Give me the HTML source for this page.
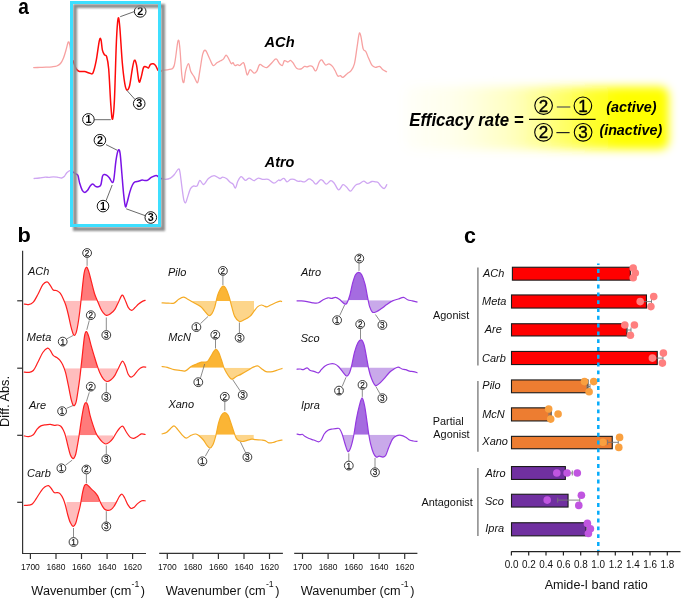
<!DOCTYPE html>
<html><head><meta charset="utf-8"><style>
html,body{margin:0;padding:0;background:#fff;}
svg{display:block;will-change:transform;}
text{font-family:"Liberation Sans", sans-serif;}
</style></head><body>
<svg width="685" height="598" viewBox="0 0 685 598">
<defs>
<filter id="sh" x="-20%" y="-20%" width="140%" height="140%"><feGaussianBlur stdDeviation="0.9"/></filter>
<filter id="bl" x="-20%" y="-40%" width="140%" height="180%"><feGaussianBlur stdDeviation="5"/></filter>
<linearGradient id="yg" x1="0" y1="0" x2="1" y2="0">
 <stop offset="0" stop-color="#ffff80" stop-opacity="0.05"/>
 <stop offset="0.2" stop-color="#ffff70" stop-opacity="0.15"/>
 <stop offset="0.4" stop-color="#ffff50" stop-opacity="0.35"/>
 <stop offset="0.55" stop-color="#ffff30" stop-opacity="0.6"/>
 <stop offset="0.7" stop-color="#ffff10" stop-opacity="0.85"/>
 <stop offset="0.82" stop-color="#ffff00" stop-opacity="1"/>
 <stop offset="1" stop-color="#ffff00" stop-opacity="1"/>
</linearGradient>
<clipPath id="c0_0"><rect x="65.00" y="300.80" width="16.10" height="80.00"/></clipPath>
<clipPath id="c0_1"><rect x="81.10" y="220.80" width="15.80" height="80.00"/></clipPath>
<clipPath id="c0_2"><rect x="96.90" y="300.80" width="20.80" height="80.00"/></clipPath>
<clipPath id="c1_0"><rect x="64.60" y="368.30" width="16.50" height="80.00"/></clipPath>
<clipPath id="c1_1"><rect x="81.10" y="288.30" width="16.30" height="80.00"/></clipPath>
<clipPath id="c1_2"><rect x="97.40" y="368.30" width="19.80" height="80.00"/></clipPath>
<clipPath id="c2_0"><rect x="66.50" y="435.20" width="12.30" height="80.00"/></clipPath>
<clipPath id="c2_1"><rect x="78.80" y="355.20" width="18.10" height="80.00"/></clipPath>
<clipPath id="c2_2"><rect x="96.90" y="435.20" width="16.10" height="80.00"/></clipPath>
<clipPath id="c3_0"><rect x="66.50" y="502.10" width="14.20" height="80.00"/></clipPath>
<clipPath id="c3_1"><rect x="80.70" y="422.10" width="18.60" height="80.00"/></clipPath>
<clipPath id="c3_2"><rect x="99.30" y="502.10" width="16.50" height="80.00"/></clipPath>
<clipPath id="c4_0"><rect x="190.10" y="300.90" width="26.00" height="80.00"/></clipPath>
<clipPath id="c4_1"><rect x="216.10" y="220.90" width="14.40" height="80.00"/></clipPath>
<clipPath id="c4_2"><rect x="230.50" y="300.90" width="23.50" height="80.00"/></clipPath>
<clipPath id="c5_0"><rect x="189.00" y="287.80" width="34.70" height="80.00"/></clipPath>
<clipPath id="c5_1"><rect x="223.70" y="367.80" width="29.00" height="80.00"/></clipPath>
<clipPath id="c6_0"><rect x="198.60" y="434.70" width="16.90" height="80.00"/></clipPath>
<clipPath id="c6_1"><rect x="215.50" y="354.70" width="20.10" height="80.00"/></clipPath>
<clipPath id="c6_2"><rect x="235.60" y="434.70" width="18.10" height="80.00"/></clipPath>
<clipPath id="c7_0"><rect x="342.20" y="300.30" width="6.60" height="80.00"/></clipPath>
<clipPath id="c7_1"><rect x="348.80" y="220.30" width="19.40" height="80.00"/></clipPath>
<clipPath id="c7_2"><rect x="368.20" y="300.30" width="22.80" height="80.00"/></clipPath>
<clipPath id="c8_0"><rect x="340.30" y="367.40" width="11.40" height="80.00"/></clipPath>
<clipPath id="c8_1"><rect x="351.70" y="287.40" width="16.50" height="80.00"/></clipPath>
<clipPath id="c8_2"><rect x="368.20" y="367.40" width="27.10" height="80.00"/></clipPath>
<clipPath id="c9_0"><rect x="342.20" y="434.70" width="11.90" height="80.00"/></clipPath>
<clipPath id="c9_1"><rect x="354.10" y="354.70" width="14.30" height="80.00"/></clipPath>
<clipPath id="c9_2"><rect x="368.40" y="434.70" width="26.90" height="80.00"/></clipPath></defs>
<rect width="685" height="598" fill="#fff"/>
<path d="M33.70,67.60 C34.75,67.57 37.95,67.47 40.00,67.40 C42.05,67.33 44.00,67.30 46.00,67.20 C48.00,67.10 50.20,67.00 52.00,66.80 C53.80,66.60 55.38,66.55 56.80,66.00 C58.22,65.45 59.38,64.83 60.50,63.50 C61.62,62.17 62.58,60.25 63.50,58.00 C64.42,55.75 65.20,52.67 66.00,50.00 C66.80,47.33 67.67,42.83 68.30,42.00 C68.93,41.17 69.35,43.17 69.80,45.00 C70.25,46.83 70.55,50.42 71.00,53.00 C71.45,55.58 72.25,59.25 72.50,60.50" fill="none" stroke="#f7a1a1" stroke-width="1.3" stroke-linejoin="round" stroke-linecap="round" />
<path d="M161.90,70.30 C163.17,70.13 167.45,70.10 169.50,69.30 C171.55,68.50 172.78,70.23 174.20,65.50 C175.62,60.77 177.05,43.73 178.00,40.90 C178.95,38.07 179.27,42.82 179.90,48.50 C180.53,54.18 181.17,69.32 181.80,75.00 C182.43,80.68 183.07,83.23 183.70,82.60 C184.33,81.97 184.80,74.37 185.60,71.20 C186.40,68.03 187.65,63.60 188.50,63.60 C189.35,63.60 189.75,68.98 190.70,71.20 C191.65,73.42 193.05,75.00 194.20,76.90 C195.35,78.80 196.67,83.55 197.60,82.60 C198.53,81.65 198.95,75.93 199.80,71.20 C200.65,66.47 201.75,57.67 202.70,54.20 C203.65,50.73 204.40,49.77 205.50,50.40 C206.60,51.03 208.03,55.48 209.30,58.00 C210.57,60.52 211.83,64.72 213.10,65.50 C214.37,66.28 215.63,63.48 216.90,62.70 C218.17,61.92 219.58,61.43 220.70,60.80 C221.82,60.17 222.72,59.85 223.60,58.90 C224.48,57.95 225.22,55.25 226.00,55.10 C226.78,54.95 227.43,56.58 228.30,58.00 C229.17,59.42 230.42,62.82 231.20,63.60 C231.98,64.38 232.38,62.38 233.00,62.70 C233.62,63.02 234.10,65.18 234.90,65.50 C235.70,65.82 237.00,64.60 237.80,64.60 C238.60,64.60 238.75,65.82 239.70,65.50 C240.65,65.18 242.55,62.22 243.50,62.70 C244.45,63.18 244.77,66.35 245.40,68.40 C246.03,70.45 246.52,74.78 247.30,75.00 C248.08,75.22 249.00,70.02 250.10,69.70 C251.20,69.38 252.78,72.85 253.90,73.10 C255.02,73.35 255.85,72.62 256.80,71.20 C257.75,69.78 258.50,65.38 259.60,64.60 C260.70,63.82 262.13,66.03 263.40,66.50 C264.67,66.97 265.78,68.03 267.20,67.40 C268.62,66.77 270.42,64.12 271.90,62.70 C273.38,61.28 274.83,58.75 276.10,58.90 C277.37,59.05 278.45,62.50 279.50,63.60 C280.55,64.70 281.58,66.00 282.40,65.50 C283.22,65.00 283.48,61.18 284.40,60.60 C285.32,60.02 286.88,62.05 287.90,62.00 C288.92,61.95 289.63,60.15 290.50,60.30 C291.37,60.45 292.08,61.58 293.10,62.90 C294.12,64.22 295.28,67.18 296.60,68.20 C297.92,69.22 299.68,69.30 301.00,69.00 C302.32,68.70 303.48,66.75 304.50,66.40 C305.52,66.05 306.22,66.98 307.10,66.90 C307.98,66.82 308.92,65.98 309.80,65.90 C310.68,65.82 311.38,65.58 312.40,66.40 C313.42,67.22 314.73,71.53 315.90,70.80 C317.07,70.07 318.43,63.82 319.40,62.00 C320.37,60.18 320.97,59.75 321.70,59.90 C322.43,60.05 323.10,62.02 323.80,62.90 C324.50,63.78 325.03,65.05 325.90,65.20 C326.77,65.35 327.90,63.60 329.00,63.80 C330.10,64.00 331.47,65.23 332.50,66.40 C333.53,67.57 334.32,69.20 335.20,70.80 C336.08,72.40 336.93,75.18 337.80,76.00 C338.67,76.82 339.53,75.47 340.40,75.70 C341.27,75.93 341.83,77.78 343.00,77.40 C344.17,77.02 346.08,74.50 347.40,73.40 C348.72,72.30 349.73,72.40 350.90,70.80 C352.07,69.20 353.37,67.80 354.40,63.80 C355.43,59.80 356.30,51.83 357.10,46.80 C357.90,41.77 358.57,35.33 359.20,33.60 C359.83,31.87 360.23,33.85 360.90,36.40 C361.57,38.95 362.38,46.38 363.20,48.90 C364.02,51.42 364.93,50.03 365.80,51.50 C366.67,52.97 367.38,55.42 368.40,57.70 C369.42,59.98 370.73,63.60 371.90,65.20 C373.07,66.80 374.13,67.10 375.40,67.30 C376.67,67.50 378.32,66.05 379.50,66.40 C380.68,66.75 381.33,68.52 382.50,69.40 C383.67,70.28 385.83,71.32 386.50,71.70" fill="none" stroke="#f7a1a1" stroke-width="1.3" stroke-linejoin="round" stroke-linecap="round" />
<path d="M34.10,178.50 C34.98,178.42 37.55,178.23 39.40,178.00 C41.25,177.77 43.65,177.20 45.20,177.10 C46.75,177.00 47.33,177.45 48.70,177.40 C50.07,177.35 51.83,176.80 53.40,176.80 C54.97,176.80 56.73,177.20 58.10,177.40 C59.47,177.60 60.53,178.20 61.60,178.00 C62.67,177.80 63.63,177.08 64.50,176.20 C65.37,175.32 65.82,173.67 66.80,172.70 C67.78,171.73 69.48,170.65 70.40,170.40 C71.32,170.15 71.98,171.07 72.30,171.20" fill="none" stroke="#cfa6f2" stroke-width="1.3" stroke-linejoin="round" stroke-linecap="round" />
<path d="M161.90,178.50 C162.53,178.65 164.28,179.47 165.70,179.40 C167.12,179.33 168.98,178.88 170.40,178.10 C171.82,177.32 172.87,176.22 174.20,174.70 C175.53,173.18 177.45,169.48 178.40,169.00 C179.35,168.52 179.33,168.95 179.90,171.80 C180.47,174.65 181.17,181.52 181.80,186.10 C182.43,190.68 183.07,196.52 183.70,199.30 C184.33,202.08 184.97,203.12 185.60,202.80 C186.23,202.48 186.70,199.72 187.50,197.40 C188.30,195.08 189.45,190.78 190.40,188.90 C191.35,187.02 192.10,186.57 193.20,186.10 C194.30,185.63 195.90,187.05 197.00,186.10 C198.10,185.15 198.70,180.67 199.80,180.40 C200.90,180.13 202.17,184.82 203.60,184.50 C205.03,184.18 206.65,179.98 208.40,178.50 C210.15,177.02 212.20,175.60 214.10,175.60 C216.00,175.60 218.38,178.25 219.80,178.50 C221.22,178.75 221.50,177.10 222.60,177.10 C223.70,177.10 225.13,177.63 226.40,178.50 C227.67,179.37 229.08,181.35 230.20,182.30 C231.32,183.25 232.22,183.25 233.10,184.20 C233.98,185.15 234.72,188.48 235.50,188.00 C236.28,187.52 236.85,183.20 237.80,181.30 C238.75,179.40 239.93,176.75 241.20,176.60 C242.47,176.45 244.07,180.15 245.40,180.40 C246.73,180.65 247.78,178.05 249.20,178.10 C250.62,178.15 252.38,180.70 253.90,180.70 C255.42,180.70 256.87,178.32 258.30,178.10 C259.73,177.88 260.85,179.18 262.50,179.40 C264.15,179.62 266.30,178.77 268.20,179.40 C270.10,180.03 272.17,183.10 273.90,183.20 C275.63,183.30 277.58,180.43 278.60,180.00 C279.62,179.57 279.12,180.87 280.00,180.60 C280.88,180.33 282.73,178.18 283.90,178.40 C285.07,178.62 285.90,181.73 287.00,181.90 C288.10,182.07 289.33,179.82 290.50,179.40 C291.67,178.98 292.83,179.10 294.00,179.40 C295.17,179.70 296.33,180.90 297.50,181.20 C298.67,181.50 299.83,181.08 301.00,181.20 C302.17,181.32 303.18,182.28 304.50,181.90 C305.82,181.52 307.58,179.12 308.90,178.90 C310.22,178.68 311.23,179.73 312.40,180.60 C313.57,181.47 314.58,184.23 315.90,184.10 C317.22,183.97 319.13,180.38 320.30,179.80 C321.47,179.22 321.88,179.88 322.90,180.60 C323.92,181.32 325.08,184.10 326.40,184.10 C327.72,184.10 329.48,180.73 330.80,180.60 C332.12,180.47 332.98,181.75 334.30,183.30 C335.62,184.85 337.25,189.67 338.70,189.90 C340.15,190.13 341.70,185.17 343.00,184.70 C344.30,184.23 345.27,186.02 346.50,187.10 C347.73,188.18 349.22,191.12 350.40,191.20 C351.58,191.28 352.63,188.68 353.60,187.60 C354.57,186.52 355.18,185.37 356.20,184.70 C357.22,184.03 358.45,184.18 359.70,183.60 C360.95,183.02 362.38,181.25 363.70,181.20 C365.02,181.15 366.23,183.25 367.60,183.30 C368.97,183.35 370.60,181.73 371.90,181.50 C373.20,181.27 374.37,181.75 375.40,181.90 C376.43,182.05 377.22,181.73 378.10,182.40 C378.98,183.07 379.68,184.88 380.70,185.90 C381.72,186.92 383.18,188.70 384.20,188.50 C385.22,188.30 386.37,185.33 386.80,184.70" fill="none" stroke="#cfa6f2" stroke-width="1.3" stroke-linejoin="round" stroke-linecap="round" />
<path d="M73.10,60.70 C73.63,62.08 75.25,67.20 76.30,69.00 C77.35,70.80 78.02,71.08 79.40,71.50 C80.78,71.92 82.85,71.22 84.60,71.50 C86.35,71.78 88.50,72.98 89.90,73.20 C91.30,73.42 91.95,74.88 93.00,72.80 C94.05,70.72 95.15,66.03 96.20,60.70 C97.25,55.37 98.50,44.30 99.30,40.80 C100.10,37.30 100.48,38.13 101.00,39.70 C101.52,41.27 101.82,47.68 102.40,50.20 C102.98,52.72 103.80,53.75 104.50,54.80 C105.20,55.85 105.90,54.13 106.60,56.50 C107.30,58.87 108.00,60.98 108.70,69.00 C109.40,77.02 110.17,96.23 110.80,104.60 C111.43,112.97 111.90,119.90 112.50,119.20 C113.10,118.50 113.75,113.30 114.40,100.40 C115.05,87.50 115.78,55.43 116.40,41.80 C117.02,28.17 117.53,21.03 118.10,18.60 C118.67,16.17 119.10,19.83 119.80,27.20 C120.50,34.57 121.47,53.38 122.30,62.80 C123.13,72.22 124.03,79.17 124.80,83.70 C125.57,88.23 126.10,89.65 126.90,90.00 C127.70,90.35 128.70,89.30 129.60,85.80 C130.50,82.30 131.50,73.25 132.30,69.00 C133.10,64.75 133.70,60.98 134.40,60.30 C135.10,59.62 135.73,61.35 136.50,64.90 C137.27,68.45 138.23,79.52 139.00,81.60 C139.77,83.68 140.33,79.77 141.10,77.40 C141.87,75.03 142.72,69.15 143.60,67.40 C144.48,65.65 145.58,66.80 146.40,66.90 C147.22,67.00 147.82,68.42 148.50,68.00 C149.18,67.58 149.70,65.10 150.50,64.40 C151.30,63.70 152.42,63.55 153.30,63.80 C154.18,64.05 155.03,64.85 155.80,65.90 C156.57,66.95 157.03,69.23 157.90,70.10 C158.77,70.97 160.48,70.93 161.00,71.10" fill="none" stroke="#ff0a0a" stroke-width="1.5" stroke-linejoin="round" stroke-linecap="round" />
<path d="M72.60,171.80 C73.05,172.10 74.42,173.00 75.30,173.60 C76.18,174.20 77.17,173.78 77.90,175.40 C78.63,177.02 78.97,180.82 79.70,183.30 C80.43,185.78 81.43,188.78 82.30,190.30 C83.17,191.82 84.02,192.40 84.90,192.40 C85.78,192.40 86.72,191.38 87.60,190.30 C88.48,189.22 89.33,186.93 90.20,185.90 C91.07,184.87 91.92,184.02 92.80,184.10 C93.68,184.18 94.62,185.95 95.50,186.40 C96.38,186.85 97.22,187.03 98.10,186.80 C98.98,186.57 100.07,186.77 100.80,185.00 C101.53,183.23 101.92,177.95 102.50,176.20 C103.08,174.45 103.57,174.63 104.30,174.50 C105.03,174.37 106.03,174.82 106.90,175.40 C107.77,175.98 108.62,176.83 109.50,178.00 C110.38,179.17 111.47,182.25 112.20,182.40 C112.93,182.55 113.27,182.57 113.90,178.90 C114.53,175.23 115.27,165.18 116.00,160.40 C116.73,155.62 117.62,151.37 118.30,150.20 C118.98,149.03 119.52,149.65 120.10,153.40 C120.68,157.15 121.22,165.97 121.80,172.70 C122.38,179.43 123.00,188.17 123.60,193.80 C124.20,199.43 124.82,205.03 125.40,206.50 C125.98,207.97 126.37,205.00 127.10,202.60 C127.83,200.20 128.92,195.03 129.80,192.10 C130.68,189.17 131.53,186.70 132.40,185.00 C133.27,183.30 133.98,182.53 135.00,181.90 C136.02,181.27 137.32,181.50 138.50,181.20 C139.68,180.90 140.92,180.20 142.10,180.10 C143.28,180.00 144.58,180.65 145.60,180.60 C146.62,180.55 147.18,180.38 148.20,179.80 C149.22,179.22 150.38,177.83 151.70,177.10 C153.02,176.37 154.92,175.40 156.10,175.40 C157.28,175.40 157.90,176.57 158.80,177.10 C159.70,177.63 161.05,178.35 161.50,178.60" fill="none" stroke="#7a12e6" stroke-width="1.5" stroke-linejoin="round" stroke-linecap="round" />
<line x1="120.2" y1="16.7" x2="134.5" y2="11.5" stroke="#444" stroke-width="0.8"/>
<circle cx="140.2" cy="11.4" r="5.80" fill="#fff" stroke="#000" stroke-width="0.9"/><text x="140.2" y="15.2" font-size="10.8" font-weight="bold" text-anchor="middle" fill="#000">2</text>
<line x1="126.9" y1="90.4" x2="135.3" y2="99.8" stroke="#444" stroke-width="0.8"/>
<circle cx="139.2" cy="103.6" r="5.80" fill="#fff" stroke="#000" stroke-width="0.9"/><text x="139.2" y="107.3" font-size="10.8" font-weight="bold" text-anchor="middle" fill="#000">3</text>
<line x1="94.0" y1="119.7" x2="110.8" y2="119.7" stroke="#444" stroke-width="0.8"/>
<circle cx="88.4" cy="119.4" r="5.80" fill="#fff" stroke="#000" stroke-width="0.9"/><text x="88.4" y="123.2" font-size="10.8" font-weight="bold" text-anchor="middle" fill="#000">1</text>
<line x1="106.0" y1="144.6" x2="117.1" y2="150.2" stroke="#444" stroke-width="0.8"/>
<circle cx="99.9" cy="140.2" r="5.80" fill="#fff" stroke="#000" stroke-width="0.9"/><text x="99.9" y="143.9" font-size="10.8" font-weight="bold" text-anchor="middle" fill="#000">2</text>
<line x1="106.0" y1="200.8" x2="112.2" y2="185.0" stroke="#444" stroke-width="0.8"/>
<circle cx="103.0" cy="206.1" r="5.80" fill="#fff" stroke="#000" stroke-width="0.9"/><text x="103.0" y="209.8" font-size="10.8" font-weight="bold" text-anchor="middle" fill="#000">1</text>
<line x1="126.2" y1="208.8" x2="145.6" y2="215.8" stroke="#444" stroke-width="0.8"/>
<circle cx="150.8" cy="217.5" r="5.80" fill="#fff" stroke="#000" stroke-width="0.9"/><text x="150.8" y="221.2" font-size="10.8" font-weight="bold" text-anchor="middle" fill="#000">3</text>
<rect x="75" y="6" width="88" height="223" fill="none" stroke="#8e8e8e" stroke-width="4" filter="url(#sh)"/>
<rect x="71.5" y="2.5" width="88" height="223" fill="none" stroke="#3ddfff" stroke-width="3"/>
<text transform="translate(264.49,46.50) scale(0.9532,1)" font-size="15.36" font-weight="bold" font-style="italic" fill="#000" >ACh</text>
<text transform="translate(264.79,166.50) scale(0.9855,1)" font-size="14.64" font-weight="bold" font-style="italic" fill="#000" >Atro</text>
<rect x="405" y="86.5" width="264" height="63" rx="9" fill="url(#yg)" filter="url(#bl)"/>
<text transform="translate(409.26,125.60) scale(0.9298,1)" font-size="18.12" font-weight="bold" font-style="italic" fill="#000" >Efficacy rate =</text>
<line x1="529.0" y1="119.4" x2="595.6" y2="119.4" stroke="#000" stroke-width="1.4"/>
<circle cx="543.6" cy="105.6" r="8.80" fill="none" stroke="#000" stroke-width="1.1"/><text x="543.6" y="111.5" font-size="17.0" font-weight="normal" text-anchor="middle" fill="#000" stroke="#000" stroke-width="0.4">2</text>
<circle cx="582.9" cy="105.8" r="8.80" fill="none" stroke="#000" stroke-width="1.1"/><text x="582.9" y="111.7" font-size="17.0" font-weight="normal" text-anchor="middle" fill="#000" stroke="#000" stroke-width="0.4">1</text>
<circle cx="543.5" cy="132.3" r="8.80" fill="none" stroke="#000" stroke-width="1.1"/><text x="543.5" y="138.2" font-size="17.0" font-weight="normal" text-anchor="middle" fill="#000" stroke="#000" stroke-width="0.4">2</text>
<circle cx="583.1" cy="132.3" r="8.80" fill="none" stroke="#000" stroke-width="1.1"/><text x="583.1" y="138.2" font-size="17.0" font-weight="normal" text-anchor="middle" fill="#000" stroke="#000" stroke-width="0.4">3</text>
<line x1="556.8" y1="107.0" x2="570.3" y2="107.0" stroke="#555" stroke-width="1.2"/>
<line x1="556.4" y1="132.6" x2="569.6" y2="132.6" stroke="#222" stroke-width="1.2"/>
<text transform="translate(606.30,111.80) scale(1.0437,1)" font-size="13.79" font-weight="bold" font-style="italic" fill="#000" >(active)</text>
<text transform="translate(599.40,135.39) scale(1.0084,1)" font-size="14.19" font-weight="bold" font-style="italic" fill="#000" >(inactive)</text>
<text transform="translate(18.13,13.90) scale(0.8875,1)" font-size="21.48" font-weight="bold" font-style="normal" fill="#000" >a</text>
<text transform="translate(17.38,242.30) scale(1.0322,1)" font-size="21.10" font-weight="bold" font-style="normal" fill="#000" >b</text>
<text transform="translate(464.04,242.90) scale(0.9897,1)" font-size="21.67" font-weight="bold" font-style="normal" fill="#000" >c</text>
<path d="M23.80,304.00 C24.58,304.10 26.92,304.92 28.50,304.60 C30.08,304.28 31.72,303.83 33.30,302.10 C34.88,300.37 36.42,297.10 38.00,294.20 C39.58,291.30 41.28,286.77 42.80,284.70 C44.32,282.63 45.83,281.65 47.10,281.80 C48.37,281.95 49.38,284.23 50.40,285.60 C51.42,286.97 52.10,289.15 53.20,290.00 C54.30,290.85 55.83,290.17 57.00,290.70 C58.17,291.23 59.15,291.83 60.20,293.20 C61.25,294.57 62.35,296.85 63.30,298.90 C64.25,300.95 65.05,302.82 65.90,305.50 C66.75,308.18 67.57,311.52 68.40,315.00 C69.23,318.48 70.02,323.07 70.90,326.40 C71.78,329.73 72.85,333.88 73.70,335.00 C74.55,336.12 75.30,334.85 76.00,333.10 C76.70,331.35 77.27,328.15 77.90,324.50 C78.53,320.85 79.17,316.25 79.80,311.20 C80.43,306.15 80.98,300.52 81.70,294.20 C82.42,287.88 83.32,277.80 84.10,273.30 C84.88,268.80 85.63,267.52 86.40,267.20 C87.17,266.88 87.90,269.12 88.70,271.40 C89.50,273.68 90.25,277.27 91.20,280.90 C92.15,284.53 93.37,289.88 94.40,293.20 C95.43,296.52 96.37,298.27 97.40,300.80 C98.43,303.33 99.58,306.35 100.60,308.40 C101.62,310.45 102.55,311.93 103.50,313.10 C104.45,314.27 105.20,315.23 106.30,315.40 C107.40,315.57 108.67,315.12 110.10,314.10 C111.53,313.08 113.47,311.37 114.90,309.30 C116.33,307.23 117.50,304.07 118.70,301.70 C119.90,299.33 121.10,295.57 122.10,295.10 C123.10,294.63 123.68,296.85 124.70,298.90 C125.72,300.95 127.05,305.50 128.20,307.40 C129.35,309.30 130.50,310.23 131.60,310.30 C132.70,310.37 133.63,308.85 134.80,307.80 C135.97,306.75 137.33,305.07 138.60,304.00 C139.87,302.93 141.23,302.03 142.40,301.40 C143.57,300.77 145.07,300.40 145.60,300.20 L145.60,300.80 L23.80,300.80 Z" fill="#ffbdbd" clip-path="url(#c0_0)"/>
<path d="M23.80,304.00 C24.58,304.10 26.92,304.92 28.50,304.60 C30.08,304.28 31.72,303.83 33.30,302.10 C34.88,300.37 36.42,297.10 38.00,294.20 C39.58,291.30 41.28,286.77 42.80,284.70 C44.32,282.63 45.83,281.65 47.10,281.80 C48.37,281.95 49.38,284.23 50.40,285.60 C51.42,286.97 52.10,289.15 53.20,290.00 C54.30,290.85 55.83,290.17 57.00,290.70 C58.17,291.23 59.15,291.83 60.20,293.20 C61.25,294.57 62.35,296.85 63.30,298.90 C64.25,300.95 65.05,302.82 65.90,305.50 C66.75,308.18 67.57,311.52 68.40,315.00 C69.23,318.48 70.02,323.07 70.90,326.40 C71.78,329.73 72.85,333.88 73.70,335.00 C74.55,336.12 75.30,334.85 76.00,333.10 C76.70,331.35 77.27,328.15 77.90,324.50 C78.53,320.85 79.17,316.25 79.80,311.20 C80.43,306.15 80.98,300.52 81.70,294.20 C82.42,287.88 83.32,277.80 84.10,273.30 C84.88,268.80 85.63,267.52 86.40,267.20 C87.17,266.88 87.90,269.12 88.70,271.40 C89.50,273.68 90.25,277.27 91.20,280.90 C92.15,284.53 93.37,289.88 94.40,293.20 C95.43,296.52 96.37,298.27 97.40,300.80 C98.43,303.33 99.58,306.35 100.60,308.40 C101.62,310.45 102.55,311.93 103.50,313.10 C104.45,314.27 105.20,315.23 106.30,315.40 C107.40,315.57 108.67,315.12 110.10,314.10 C111.53,313.08 113.47,311.37 114.90,309.30 C116.33,307.23 117.50,304.07 118.70,301.70 C119.90,299.33 121.10,295.57 122.10,295.10 C123.10,294.63 123.68,296.85 124.70,298.90 C125.72,300.95 127.05,305.50 128.20,307.40 C129.35,309.30 130.50,310.23 131.60,310.30 C132.70,310.37 133.63,308.85 134.80,307.80 C135.97,306.75 137.33,305.07 138.60,304.00 C139.87,302.93 141.23,302.03 142.40,301.40 C143.57,300.77 145.07,300.40 145.60,300.20 L145.60,300.80 L23.80,300.80 Z" fill="#ff7b7b" clip-path="url(#c0_1)"/>
<path d="M23.80,304.00 C24.58,304.10 26.92,304.92 28.50,304.60 C30.08,304.28 31.72,303.83 33.30,302.10 C34.88,300.37 36.42,297.10 38.00,294.20 C39.58,291.30 41.28,286.77 42.80,284.70 C44.32,282.63 45.83,281.65 47.10,281.80 C48.37,281.95 49.38,284.23 50.40,285.60 C51.42,286.97 52.10,289.15 53.20,290.00 C54.30,290.85 55.83,290.17 57.00,290.70 C58.17,291.23 59.15,291.83 60.20,293.20 C61.25,294.57 62.35,296.85 63.30,298.90 C64.25,300.95 65.05,302.82 65.90,305.50 C66.75,308.18 67.57,311.52 68.40,315.00 C69.23,318.48 70.02,323.07 70.90,326.40 C71.78,329.73 72.85,333.88 73.70,335.00 C74.55,336.12 75.30,334.85 76.00,333.10 C76.70,331.35 77.27,328.15 77.90,324.50 C78.53,320.85 79.17,316.25 79.80,311.20 C80.43,306.15 80.98,300.52 81.70,294.20 C82.42,287.88 83.32,277.80 84.10,273.30 C84.88,268.80 85.63,267.52 86.40,267.20 C87.17,266.88 87.90,269.12 88.70,271.40 C89.50,273.68 90.25,277.27 91.20,280.90 C92.15,284.53 93.37,289.88 94.40,293.20 C95.43,296.52 96.37,298.27 97.40,300.80 C98.43,303.33 99.58,306.35 100.60,308.40 C101.62,310.45 102.55,311.93 103.50,313.10 C104.45,314.27 105.20,315.23 106.30,315.40 C107.40,315.57 108.67,315.12 110.10,314.10 C111.53,313.08 113.47,311.37 114.90,309.30 C116.33,307.23 117.50,304.07 118.70,301.70 C119.90,299.33 121.10,295.57 122.10,295.10 C123.10,294.63 123.68,296.85 124.70,298.90 C125.72,300.95 127.05,305.50 128.20,307.40 C129.35,309.30 130.50,310.23 131.60,310.30 C132.70,310.37 133.63,308.85 134.80,307.80 C135.97,306.75 137.33,305.07 138.60,304.00 C139.87,302.93 141.23,302.03 142.40,301.40 C143.57,300.77 145.07,300.40 145.60,300.20 L145.60,300.80 L23.80,300.80 Z" fill="#ffbdbd" clip-path="url(#c0_2)"/>
<path d="M23.80,304.00 C24.58,304.10 26.92,304.92 28.50,304.60 C30.08,304.28 31.72,303.83 33.30,302.10 C34.88,300.37 36.42,297.10 38.00,294.20 C39.58,291.30 41.28,286.77 42.80,284.70 C44.32,282.63 45.83,281.65 47.10,281.80 C48.37,281.95 49.38,284.23 50.40,285.60 C51.42,286.97 52.10,289.15 53.20,290.00 C54.30,290.85 55.83,290.17 57.00,290.70 C58.17,291.23 59.15,291.83 60.20,293.20 C61.25,294.57 62.35,296.85 63.30,298.90 C64.25,300.95 65.05,302.82 65.90,305.50 C66.75,308.18 67.57,311.52 68.40,315.00 C69.23,318.48 70.02,323.07 70.90,326.40 C71.78,329.73 72.85,333.88 73.70,335.00 C74.55,336.12 75.30,334.85 76.00,333.10 C76.70,331.35 77.27,328.15 77.90,324.50 C78.53,320.85 79.17,316.25 79.80,311.20 C80.43,306.15 80.98,300.52 81.70,294.20 C82.42,287.88 83.32,277.80 84.10,273.30 C84.88,268.80 85.63,267.52 86.40,267.20 C87.17,266.88 87.90,269.12 88.70,271.40 C89.50,273.68 90.25,277.27 91.20,280.90 C92.15,284.53 93.37,289.88 94.40,293.20 C95.43,296.52 96.37,298.27 97.40,300.80 C98.43,303.33 99.58,306.35 100.60,308.40 C101.62,310.45 102.55,311.93 103.50,313.10 C104.45,314.27 105.20,315.23 106.30,315.40 C107.40,315.57 108.67,315.12 110.10,314.10 C111.53,313.08 113.47,311.37 114.90,309.30 C116.33,307.23 117.50,304.07 118.70,301.70 C119.90,299.33 121.10,295.57 122.10,295.10 C123.10,294.63 123.68,296.85 124.70,298.90 C125.72,300.95 127.05,305.50 128.20,307.40 C129.35,309.30 130.50,310.23 131.60,310.30 C132.70,310.37 133.63,308.85 134.80,307.80 C135.97,306.75 137.33,305.07 138.60,304.00 C139.87,302.93 141.23,302.03 142.40,301.40 C143.57,300.77 145.07,300.40 145.60,300.20" fill="none" stroke="#ff1f1f" stroke-width="1.2" stroke-linejoin="round"/>
<path d="M23.80,372.10 C24.58,372.15 26.92,372.67 28.50,372.40 C30.08,372.13 31.72,372.23 33.30,370.50 C34.88,368.77 36.42,365.00 38.00,362.00 C39.58,359.00 41.22,354.82 42.80,352.50 C44.38,350.18 46.23,348.42 47.50,348.10 C48.77,347.78 49.45,349.38 50.40,350.60 C51.35,351.82 52.10,354.23 53.20,355.40 C54.30,356.57 55.90,356.82 57.00,357.60 C58.10,358.38 58.85,358.90 59.80,360.10 C60.75,361.30 61.75,362.75 62.70,364.80 C63.65,366.85 64.55,368.92 65.50,372.40 C66.45,375.88 67.45,381.18 68.40,385.70 C69.35,390.22 70.35,396.18 71.20,399.50 C72.05,402.82 72.70,405.12 73.50,405.60 C74.30,406.08 75.27,404.77 76.00,402.40 C76.73,400.03 77.27,395.45 77.90,391.40 C78.53,387.35 79.17,383.15 79.80,378.10 C80.43,373.05 80.92,368.05 81.70,361.10 C82.48,354.15 83.72,341.32 84.50,336.40 C85.28,331.48 85.70,331.60 86.40,331.60 C87.10,331.60 87.90,334.02 88.70,336.40 C89.50,338.78 90.32,342.73 91.20,345.90 C92.08,349.07 93.05,352.25 94.00,355.40 C94.95,358.55 95.95,361.97 96.90,364.80 C97.85,367.63 98.60,370.02 99.70,372.40 C100.80,374.78 102.30,377.58 103.50,379.10 C104.70,380.62 105.70,381.35 106.90,381.50 C108.10,381.65 109.37,381.03 110.70,380.00 C112.03,378.97 113.57,377.35 114.90,375.30 C116.23,373.25 117.43,370.07 118.70,367.70 C119.97,365.33 121.40,361.42 122.50,361.10 C123.60,360.78 124.35,363.60 125.30,365.80 C126.25,368.00 127.25,372.40 128.20,374.30 C129.15,376.20 130.05,377.03 131.00,377.20 C131.95,377.37 132.63,376.57 133.90,375.30 C135.17,374.03 137.18,370.97 138.60,369.60 C140.02,368.23 141.13,367.52 142.40,367.10 C143.67,366.68 145.57,367.10 146.20,367.10 L146.20,368.30 L23.80,368.30 Z" fill="#ffbdbd" clip-path="url(#c1_0)"/>
<path d="M23.80,372.10 C24.58,372.15 26.92,372.67 28.50,372.40 C30.08,372.13 31.72,372.23 33.30,370.50 C34.88,368.77 36.42,365.00 38.00,362.00 C39.58,359.00 41.22,354.82 42.80,352.50 C44.38,350.18 46.23,348.42 47.50,348.10 C48.77,347.78 49.45,349.38 50.40,350.60 C51.35,351.82 52.10,354.23 53.20,355.40 C54.30,356.57 55.90,356.82 57.00,357.60 C58.10,358.38 58.85,358.90 59.80,360.10 C60.75,361.30 61.75,362.75 62.70,364.80 C63.65,366.85 64.55,368.92 65.50,372.40 C66.45,375.88 67.45,381.18 68.40,385.70 C69.35,390.22 70.35,396.18 71.20,399.50 C72.05,402.82 72.70,405.12 73.50,405.60 C74.30,406.08 75.27,404.77 76.00,402.40 C76.73,400.03 77.27,395.45 77.90,391.40 C78.53,387.35 79.17,383.15 79.80,378.10 C80.43,373.05 80.92,368.05 81.70,361.10 C82.48,354.15 83.72,341.32 84.50,336.40 C85.28,331.48 85.70,331.60 86.40,331.60 C87.10,331.60 87.90,334.02 88.70,336.40 C89.50,338.78 90.32,342.73 91.20,345.90 C92.08,349.07 93.05,352.25 94.00,355.40 C94.95,358.55 95.95,361.97 96.90,364.80 C97.85,367.63 98.60,370.02 99.70,372.40 C100.80,374.78 102.30,377.58 103.50,379.10 C104.70,380.62 105.70,381.35 106.90,381.50 C108.10,381.65 109.37,381.03 110.70,380.00 C112.03,378.97 113.57,377.35 114.90,375.30 C116.23,373.25 117.43,370.07 118.70,367.70 C119.97,365.33 121.40,361.42 122.50,361.10 C123.60,360.78 124.35,363.60 125.30,365.80 C126.25,368.00 127.25,372.40 128.20,374.30 C129.15,376.20 130.05,377.03 131.00,377.20 C131.95,377.37 132.63,376.57 133.90,375.30 C135.17,374.03 137.18,370.97 138.60,369.60 C140.02,368.23 141.13,367.52 142.40,367.10 C143.67,366.68 145.57,367.10 146.20,367.10 L146.20,368.30 L23.80,368.30 Z" fill="#ff7b7b" clip-path="url(#c1_1)"/>
<path d="M23.80,372.10 C24.58,372.15 26.92,372.67 28.50,372.40 C30.08,372.13 31.72,372.23 33.30,370.50 C34.88,368.77 36.42,365.00 38.00,362.00 C39.58,359.00 41.22,354.82 42.80,352.50 C44.38,350.18 46.23,348.42 47.50,348.10 C48.77,347.78 49.45,349.38 50.40,350.60 C51.35,351.82 52.10,354.23 53.20,355.40 C54.30,356.57 55.90,356.82 57.00,357.60 C58.10,358.38 58.85,358.90 59.80,360.10 C60.75,361.30 61.75,362.75 62.70,364.80 C63.65,366.85 64.55,368.92 65.50,372.40 C66.45,375.88 67.45,381.18 68.40,385.70 C69.35,390.22 70.35,396.18 71.20,399.50 C72.05,402.82 72.70,405.12 73.50,405.60 C74.30,406.08 75.27,404.77 76.00,402.40 C76.73,400.03 77.27,395.45 77.90,391.40 C78.53,387.35 79.17,383.15 79.80,378.10 C80.43,373.05 80.92,368.05 81.70,361.10 C82.48,354.15 83.72,341.32 84.50,336.40 C85.28,331.48 85.70,331.60 86.40,331.60 C87.10,331.60 87.90,334.02 88.70,336.40 C89.50,338.78 90.32,342.73 91.20,345.90 C92.08,349.07 93.05,352.25 94.00,355.40 C94.95,358.55 95.95,361.97 96.90,364.80 C97.85,367.63 98.60,370.02 99.70,372.40 C100.80,374.78 102.30,377.58 103.50,379.10 C104.70,380.62 105.70,381.35 106.90,381.50 C108.10,381.65 109.37,381.03 110.70,380.00 C112.03,378.97 113.57,377.35 114.90,375.30 C116.23,373.25 117.43,370.07 118.70,367.70 C119.97,365.33 121.40,361.42 122.50,361.10 C123.60,360.78 124.35,363.60 125.30,365.80 C126.25,368.00 127.25,372.40 128.20,374.30 C129.15,376.20 130.05,377.03 131.00,377.20 C131.95,377.37 132.63,376.57 133.90,375.30 C135.17,374.03 137.18,370.97 138.60,369.60 C140.02,368.23 141.13,367.52 142.40,367.10 C143.67,366.68 145.57,367.10 146.20,367.10 L146.20,368.30 L23.80,368.30 Z" fill="#ffbdbd" clip-path="url(#c1_2)"/>
<path d="M23.80,372.10 C24.58,372.15 26.92,372.67 28.50,372.40 C30.08,372.13 31.72,372.23 33.30,370.50 C34.88,368.77 36.42,365.00 38.00,362.00 C39.58,359.00 41.22,354.82 42.80,352.50 C44.38,350.18 46.23,348.42 47.50,348.10 C48.77,347.78 49.45,349.38 50.40,350.60 C51.35,351.82 52.10,354.23 53.20,355.40 C54.30,356.57 55.90,356.82 57.00,357.60 C58.10,358.38 58.85,358.90 59.80,360.10 C60.75,361.30 61.75,362.75 62.70,364.80 C63.65,366.85 64.55,368.92 65.50,372.40 C66.45,375.88 67.45,381.18 68.40,385.70 C69.35,390.22 70.35,396.18 71.20,399.50 C72.05,402.82 72.70,405.12 73.50,405.60 C74.30,406.08 75.27,404.77 76.00,402.40 C76.73,400.03 77.27,395.45 77.90,391.40 C78.53,387.35 79.17,383.15 79.80,378.10 C80.43,373.05 80.92,368.05 81.70,361.10 C82.48,354.15 83.72,341.32 84.50,336.40 C85.28,331.48 85.70,331.60 86.40,331.60 C87.10,331.60 87.90,334.02 88.70,336.40 C89.50,338.78 90.32,342.73 91.20,345.90 C92.08,349.07 93.05,352.25 94.00,355.40 C94.95,358.55 95.95,361.97 96.90,364.80 C97.85,367.63 98.60,370.02 99.70,372.40 C100.80,374.78 102.30,377.58 103.50,379.10 C104.70,380.62 105.70,381.35 106.90,381.50 C108.10,381.65 109.37,381.03 110.70,380.00 C112.03,378.97 113.57,377.35 114.90,375.30 C116.23,373.25 117.43,370.07 118.70,367.70 C119.97,365.33 121.40,361.42 122.50,361.10 C123.60,360.78 124.35,363.60 125.30,365.80 C126.25,368.00 127.25,372.40 128.20,374.30 C129.15,376.20 130.05,377.03 131.00,377.20 C131.95,377.37 132.63,376.57 133.90,375.30 C135.17,374.03 137.18,370.97 138.60,369.60 C140.02,368.23 141.13,367.52 142.40,367.10 C143.67,366.68 145.57,367.10 146.20,367.10" fill="none" stroke="#ff1f1f" stroke-width="1.2" stroke-linejoin="round"/>
<path d="M23.80,435.80 C24.58,435.95 26.92,436.87 28.50,436.70 C30.08,436.53 31.87,436.05 33.30,434.80 C34.73,433.55 35.83,430.68 37.10,429.20 C38.37,427.72 39.48,426.63 40.90,425.90 C42.32,425.17 44.02,425.05 45.60,424.80 C47.18,424.55 48.97,424.30 50.40,424.40 C51.83,424.50 52.93,425.30 54.20,425.40 C55.47,425.50 56.90,424.85 58.00,425.00 C59.10,425.15 59.92,425.45 60.80,426.30 C61.68,427.15 62.52,428.52 63.30,430.10 C64.08,431.68 64.75,433.27 65.50,435.80 C66.25,438.33 67.00,442.13 67.80,445.30 C68.60,448.47 69.42,452.58 70.30,454.80 C71.18,457.02 72.25,458.52 73.10,458.60 C73.95,458.68 74.70,457.37 75.40,455.30 C76.10,453.23 76.67,449.62 77.30,446.20 C77.93,442.78 78.47,439.53 79.20,434.80 C79.93,430.07 80.88,422.70 81.70,417.80 C82.52,412.90 83.38,407.93 84.10,405.40 C84.82,402.87 85.37,402.60 86.00,402.60 C86.63,402.60 87.20,403.18 87.90,405.40 C88.60,407.62 89.33,412.57 90.20,415.90 C91.07,419.23 92.15,422.55 93.10,425.40 C94.05,428.25 94.97,430.95 95.90,433.00 C96.83,435.05 97.60,436.18 98.70,437.70 C99.80,439.22 101.32,441.05 102.50,442.10 C103.68,443.15 104.68,443.95 105.80,444.00 C106.92,444.05 108.00,443.35 109.20,442.40 C110.40,441.45 111.73,440.03 113.00,438.30 C114.27,436.57 115.70,433.68 116.80,432.00 C117.90,430.32 118.60,429.15 119.60,428.20 C120.60,427.25 121.68,425.67 122.80,426.30 C123.92,426.93 125.08,430.20 126.30,432.00 C127.52,433.80 128.83,436.05 130.10,437.10 C131.37,438.15 132.65,438.42 133.90,438.30 C135.15,438.18 136.35,437.13 137.60,436.40 C138.85,435.67 140.07,434.22 141.40,433.90 C142.73,433.58 144.90,434.40 145.60,434.50 L145.60,435.20 L23.80,435.20 Z" fill="#ffbdbd" clip-path="url(#c2_0)"/>
<path d="M23.80,435.80 C24.58,435.95 26.92,436.87 28.50,436.70 C30.08,436.53 31.87,436.05 33.30,434.80 C34.73,433.55 35.83,430.68 37.10,429.20 C38.37,427.72 39.48,426.63 40.90,425.90 C42.32,425.17 44.02,425.05 45.60,424.80 C47.18,424.55 48.97,424.30 50.40,424.40 C51.83,424.50 52.93,425.30 54.20,425.40 C55.47,425.50 56.90,424.85 58.00,425.00 C59.10,425.15 59.92,425.45 60.80,426.30 C61.68,427.15 62.52,428.52 63.30,430.10 C64.08,431.68 64.75,433.27 65.50,435.80 C66.25,438.33 67.00,442.13 67.80,445.30 C68.60,448.47 69.42,452.58 70.30,454.80 C71.18,457.02 72.25,458.52 73.10,458.60 C73.95,458.68 74.70,457.37 75.40,455.30 C76.10,453.23 76.67,449.62 77.30,446.20 C77.93,442.78 78.47,439.53 79.20,434.80 C79.93,430.07 80.88,422.70 81.70,417.80 C82.52,412.90 83.38,407.93 84.10,405.40 C84.82,402.87 85.37,402.60 86.00,402.60 C86.63,402.60 87.20,403.18 87.90,405.40 C88.60,407.62 89.33,412.57 90.20,415.90 C91.07,419.23 92.15,422.55 93.10,425.40 C94.05,428.25 94.97,430.95 95.90,433.00 C96.83,435.05 97.60,436.18 98.70,437.70 C99.80,439.22 101.32,441.05 102.50,442.10 C103.68,443.15 104.68,443.95 105.80,444.00 C106.92,444.05 108.00,443.35 109.20,442.40 C110.40,441.45 111.73,440.03 113.00,438.30 C114.27,436.57 115.70,433.68 116.80,432.00 C117.90,430.32 118.60,429.15 119.60,428.20 C120.60,427.25 121.68,425.67 122.80,426.30 C123.92,426.93 125.08,430.20 126.30,432.00 C127.52,433.80 128.83,436.05 130.10,437.10 C131.37,438.15 132.65,438.42 133.90,438.30 C135.15,438.18 136.35,437.13 137.60,436.40 C138.85,435.67 140.07,434.22 141.40,433.90 C142.73,433.58 144.90,434.40 145.60,434.50 L145.60,435.20 L23.80,435.20 Z" fill="#ff7b7b" clip-path="url(#c2_1)"/>
<path d="M23.80,435.80 C24.58,435.95 26.92,436.87 28.50,436.70 C30.08,436.53 31.87,436.05 33.30,434.80 C34.73,433.55 35.83,430.68 37.10,429.20 C38.37,427.72 39.48,426.63 40.90,425.90 C42.32,425.17 44.02,425.05 45.60,424.80 C47.18,424.55 48.97,424.30 50.40,424.40 C51.83,424.50 52.93,425.30 54.20,425.40 C55.47,425.50 56.90,424.85 58.00,425.00 C59.10,425.15 59.92,425.45 60.80,426.30 C61.68,427.15 62.52,428.52 63.30,430.10 C64.08,431.68 64.75,433.27 65.50,435.80 C66.25,438.33 67.00,442.13 67.80,445.30 C68.60,448.47 69.42,452.58 70.30,454.80 C71.18,457.02 72.25,458.52 73.10,458.60 C73.95,458.68 74.70,457.37 75.40,455.30 C76.10,453.23 76.67,449.62 77.30,446.20 C77.93,442.78 78.47,439.53 79.20,434.80 C79.93,430.07 80.88,422.70 81.70,417.80 C82.52,412.90 83.38,407.93 84.10,405.40 C84.82,402.87 85.37,402.60 86.00,402.60 C86.63,402.60 87.20,403.18 87.90,405.40 C88.60,407.62 89.33,412.57 90.20,415.90 C91.07,419.23 92.15,422.55 93.10,425.40 C94.05,428.25 94.97,430.95 95.90,433.00 C96.83,435.05 97.60,436.18 98.70,437.70 C99.80,439.22 101.32,441.05 102.50,442.10 C103.68,443.15 104.68,443.95 105.80,444.00 C106.92,444.05 108.00,443.35 109.20,442.40 C110.40,441.45 111.73,440.03 113.00,438.30 C114.27,436.57 115.70,433.68 116.80,432.00 C117.90,430.32 118.60,429.15 119.60,428.20 C120.60,427.25 121.68,425.67 122.80,426.30 C123.92,426.93 125.08,430.20 126.30,432.00 C127.52,433.80 128.83,436.05 130.10,437.10 C131.37,438.15 132.65,438.42 133.90,438.30 C135.15,438.18 136.35,437.13 137.60,436.40 C138.85,435.67 140.07,434.22 141.40,433.90 C142.73,433.58 144.90,434.40 145.60,434.50 L145.60,435.20 L23.80,435.20 Z" fill="#ffbdbd" clip-path="url(#c2_2)"/>
<path d="M23.80,435.80 C24.58,435.95 26.92,436.87 28.50,436.70 C30.08,436.53 31.87,436.05 33.30,434.80 C34.73,433.55 35.83,430.68 37.10,429.20 C38.37,427.72 39.48,426.63 40.90,425.90 C42.32,425.17 44.02,425.05 45.60,424.80 C47.18,424.55 48.97,424.30 50.40,424.40 C51.83,424.50 52.93,425.30 54.20,425.40 C55.47,425.50 56.90,424.85 58.00,425.00 C59.10,425.15 59.92,425.45 60.80,426.30 C61.68,427.15 62.52,428.52 63.30,430.10 C64.08,431.68 64.75,433.27 65.50,435.80 C66.25,438.33 67.00,442.13 67.80,445.30 C68.60,448.47 69.42,452.58 70.30,454.80 C71.18,457.02 72.25,458.52 73.10,458.60 C73.95,458.68 74.70,457.37 75.40,455.30 C76.10,453.23 76.67,449.62 77.30,446.20 C77.93,442.78 78.47,439.53 79.20,434.80 C79.93,430.07 80.88,422.70 81.70,417.80 C82.52,412.90 83.38,407.93 84.10,405.40 C84.82,402.87 85.37,402.60 86.00,402.60 C86.63,402.60 87.20,403.18 87.90,405.40 C88.60,407.62 89.33,412.57 90.20,415.90 C91.07,419.23 92.15,422.55 93.10,425.40 C94.05,428.25 94.97,430.95 95.90,433.00 C96.83,435.05 97.60,436.18 98.70,437.70 C99.80,439.22 101.32,441.05 102.50,442.10 C103.68,443.15 104.68,443.95 105.80,444.00 C106.92,444.05 108.00,443.35 109.20,442.40 C110.40,441.45 111.73,440.03 113.00,438.30 C114.27,436.57 115.70,433.68 116.80,432.00 C117.90,430.32 118.60,429.15 119.60,428.20 C120.60,427.25 121.68,425.67 122.80,426.30 C123.92,426.93 125.08,430.20 126.30,432.00 C127.52,433.80 128.83,436.05 130.10,437.10 C131.37,438.15 132.65,438.42 133.90,438.30 C135.15,438.18 136.35,437.13 137.60,436.40 C138.85,435.67 140.07,434.22 141.40,433.90 C142.73,433.58 144.90,434.40 145.60,434.50" fill="none" stroke="#ff1f1f" stroke-width="1.2" stroke-linejoin="round"/>
<path d="M23.80,505.50 C24.58,505.45 27.08,505.45 28.50,505.20 C29.92,504.95 31.03,505.05 32.30,504.00 C33.57,502.95 34.67,501.02 36.10,498.90 C37.53,496.78 39.47,493.27 40.90,491.30 C42.33,489.33 43.43,488.05 44.70,487.10 C45.97,486.15 47.40,485.37 48.50,485.60 C49.60,485.83 50.35,487.33 51.30,488.50 C52.25,489.67 53.25,491.92 54.20,492.60 C55.15,493.28 56.00,492.40 57.00,492.60 C58.00,492.80 59.15,492.75 60.20,493.80 C61.25,494.85 62.42,496.95 63.30,498.90 C64.18,500.85 64.75,502.82 65.50,505.50 C66.25,508.18 67.00,512.15 67.80,515.00 C68.60,517.85 69.42,520.70 70.30,522.60 C71.18,524.50 72.22,526.23 73.10,526.40 C73.98,526.57 74.80,525.50 75.60,523.60 C76.40,521.70 77.12,518.02 77.90,515.00 C78.68,511.98 79.52,509.28 80.30,505.50 C81.08,501.72 81.90,495.62 82.60,492.30 C83.30,488.98 83.87,486.93 84.50,485.60 C85.13,484.27 85.70,484.20 86.40,484.30 C87.10,484.40 87.82,485.35 88.70,486.20 C89.58,487.05 90.65,488.38 91.70,489.40 C92.75,490.42 93.98,491.18 95.00,492.30 C96.02,493.42 97.02,494.68 97.80,496.10 C98.58,497.52 99.00,499.23 99.70,500.80 C100.40,502.37 101.22,504.13 102.00,505.50 C102.78,506.87 103.52,508.20 104.40,509.00 C105.28,509.80 106.25,510.18 107.30,510.30 C108.35,510.42 109.60,510.33 110.70,509.70 C111.80,509.07 112.88,507.88 113.90,506.50 C114.92,505.12 115.85,503.13 116.80,501.40 C117.75,499.67 118.72,497.30 119.60,496.10 C120.48,494.90 121.25,493.88 122.10,494.20 C122.95,494.52 123.75,496.27 124.70,498.00 C125.65,499.73 126.75,502.87 127.80,504.60 C128.85,506.33 129.98,507.93 131.00,508.40 C132.02,508.87 132.80,508.20 133.90,507.40 C135.00,506.60 136.28,504.70 137.60,503.60 C138.92,502.50 140.47,501.27 141.80,500.80 C143.13,500.33 144.97,500.80 145.60,500.80 L145.60,502.10 L23.80,502.10 Z" fill="#ffbdbd" clip-path="url(#c3_0)"/>
<path d="M23.80,505.50 C24.58,505.45 27.08,505.45 28.50,505.20 C29.92,504.95 31.03,505.05 32.30,504.00 C33.57,502.95 34.67,501.02 36.10,498.90 C37.53,496.78 39.47,493.27 40.90,491.30 C42.33,489.33 43.43,488.05 44.70,487.10 C45.97,486.15 47.40,485.37 48.50,485.60 C49.60,485.83 50.35,487.33 51.30,488.50 C52.25,489.67 53.25,491.92 54.20,492.60 C55.15,493.28 56.00,492.40 57.00,492.60 C58.00,492.80 59.15,492.75 60.20,493.80 C61.25,494.85 62.42,496.95 63.30,498.90 C64.18,500.85 64.75,502.82 65.50,505.50 C66.25,508.18 67.00,512.15 67.80,515.00 C68.60,517.85 69.42,520.70 70.30,522.60 C71.18,524.50 72.22,526.23 73.10,526.40 C73.98,526.57 74.80,525.50 75.60,523.60 C76.40,521.70 77.12,518.02 77.90,515.00 C78.68,511.98 79.52,509.28 80.30,505.50 C81.08,501.72 81.90,495.62 82.60,492.30 C83.30,488.98 83.87,486.93 84.50,485.60 C85.13,484.27 85.70,484.20 86.40,484.30 C87.10,484.40 87.82,485.35 88.70,486.20 C89.58,487.05 90.65,488.38 91.70,489.40 C92.75,490.42 93.98,491.18 95.00,492.30 C96.02,493.42 97.02,494.68 97.80,496.10 C98.58,497.52 99.00,499.23 99.70,500.80 C100.40,502.37 101.22,504.13 102.00,505.50 C102.78,506.87 103.52,508.20 104.40,509.00 C105.28,509.80 106.25,510.18 107.30,510.30 C108.35,510.42 109.60,510.33 110.70,509.70 C111.80,509.07 112.88,507.88 113.90,506.50 C114.92,505.12 115.85,503.13 116.80,501.40 C117.75,499.67 118.72,497.30 119.60,496.10 C120.48,494.90 121.25,493.88 122.10,494.20 C122.95,494.52 123.75,496.27 124.70,498.00 C125.65,499.73 126.75,502.87 127.80,504.60 C128.85,506.33 129.98,507.93 131.00,508.40 C132.02,508.87 132.80,508.20 133.90,507.40 C135.00,506.60 136.28,504.70 137.60,503.60 C138.92,502.50 140.47,501.27 141.80,500.80 C143.13,500.33 144.97,500.80 145.60,500.80 L145.60,502.10 L23.80,502.10 Z" fill="#ff7b7b" clip-path="url(#c3_1)"/>
<path d="M23.80,505.50 C24.58,505.45 27.08,505.45 28.50,505.20 C29.92,504.95 31.03,505.05 32.30,504.00 C33.57,502.95 34.67,501.02 36.10,498.90 C37.53,496.78 39.47,493.27 40.90,491.30 C42.33,489.33 43.43,488.05 44.70,487.10 C45.97,486.15 47.40,485.37 48.50,485.60 C49.60,485.83 50.35,487.33 51.30,488.50 C52.25,489.67 53.25,491.92 54.20,492.60 C55.15,493.28 56.00,492.40 57.00,492.60 C58.00,492.80 59.15,492.75 60.20,493.80 C61.25,494.85 62.42,496.95 63.30,498.90 C64.18,500.85 64.75,502.82 65.50,505.50 C66.25,508.18 67.00,512.15 67.80,515.00 C68.60,517.85 69.42,520.70 70.30,522.60 C71.18,524.50 72.22,526.23 73.10,526.40 C73.98,526.57 74.80,525.50 75.60,523.60 C76.40,521.70 77.12,518.02 77.90,515.00 C78.68,511.98 79.52,509.28 80.30,505.50 C81.08,501.72 81.90,495.62 82.60,492.30 C83.30,488.98 83.87,486.93 84.50,485.60 C85.13,484.27 85.70,484.20 86.40,484.30 C87.10,484.40 87.82,485.35 88.70,486.20 C89.58,487.05 90.65,488.38 91.70,489.40 C92.75,490.42 93.98,491.18 95.00,492.30 C96.02,493.42 97.02,494.68 97.80,496.10 C98.58,497.52 99.00,499.23 99.70,500.80 C100.40,502.37 101.22,504.13 102.00,505.50 C102.78,506.87 103.52,508.20 104.40,509.00 C105.28,509.80 106.25,510.18 107.30,510.30 C108.35,510.42 109.60,510.33 110.70,509.70 C111.80,509.07 112.88,507.88 113.90,506.50 C114.92,505.12 115.85,503.13 116.80,501.40 C117.75,499.67 118.72,497.30 119.60,496.10 C120.48,494.90 121.25,493.88 122.10,494.20 C122.95,494.52 123.75,496.27 124.70,498.00 C125.65,499.73 126.75,502.87 127.80,504.60 C128.85,506.33 129.98,507.93 131.00,508.40 C132.02,508.87 132.80,508.20 133.90,507.40 C135.00,506.60 136.28,504.70 137.60,503.60 C138.92,502.50 140.47,501.27 141.80,500.80 C143.13,500.33 144.97,500.80 145.60,500.80 L145.60,502.10 L23.80,502.10 Z" fill="#ffbdbd" clip-path="url(#c3_2)"/>
<path d="M23.80,505.50 C24.58,505.45 27.08,505.45 28.50,505.20 C29.92,504.95 31.03,505.05 32.30,504.00 C33.57,502.95 34.67,501.02 36.10,498.90 C37.53,496.78 39.47,493.27 40.90,491.30 C42.33,489.33 43.43,488.05 44.70,487.10 C45.97,486.15 47.40,485.37 48.50,485.60 C49.60,485.83 50.35,487.33 51.30,488.50 C52.25,489.67 53.25,491.92 54.20,492.60 C55.15,493.28 56.00,492.40 57.00,492.60 C58.00,492.80 59.15,492.75 60.20,493.80 C61.25,494.85 62.42,496.95 63.30,498.90 C64.18,500.85 64.75,502.82 65.50,505.50 C66.25,508.18 67.00,512.15 67.80,515.00 C68.60,517.85 69.42,520.70 70.30,522.60 C71.18,524.50 72.22,526.23 73.10,526.40 C73.98,526.57 74.80,525.50 75.60,523.60 C76.40,521.70 77.12,518.02 77.90,515.00 C78.68,511.98 79.52,509.28 80.30,505.50 C81.08,501.72 81.90,495.62 82.60,492.30 C83.30,488.98 83.87,486.93 84.50,485.60 C85.13,484.27 85.70,484.20 86.40,484.30 C87.10,484.40 87.82,485.35 88.70,486.20 C89.58,487.05 90.65,488.38 91.70,489.40 C92.75,490.42 93.98,491.18 95.00,492.30 C96.02,493.42 97.02,494.68 97.80,496.10 C98.58,497.52 99.00,499.23 99.70,500.80 C100.40,502.37 101.22,504.13 102.00,505.50 C102.78,506.87 103.52,508.20 104.40,509.00 C105.28,509.80 106.25,510.18 107.30,510.30 C108.35,510.42 109.60,510.33 110.70,509.70 C111.80,509.07 112.88,507.88 113.90,506.50 C114.92,505.12 115.85,503.13 116.80,501.40 C117.75,499.67 118.72,497.30 119.60,496.10 C120.48,494.90 121.25,493.88 122.10,494.20 C122.95,494.52 123.75,496.27 124.70,498.00 C125.65,499.73 126.75,502.87 127.80,504.60 C128.85,506.33 129.98,507.93 131.00,508.40 C132.02,508.87 132.80,508.20 133.90,507.40 C135.00,506.60 136.28,504.70 137.60,503.60 C138.92,502.50 140.47,501.27 141.80,500.80 C143.13,500.33 144.97,500.80 145.60,500.80" fill="none" stroke="#ff1f1f" stroke-width="1.2" stroke-linejoin="round"/>
<path d="M161.60,302.80 C162.72,302.85 166.23,303.05 168.30,303.10 C170.37,303.15 172.27,303.73 174.00,303.10 C175.73,302.47 177.12,300.30 178.70,299.30 C180.28,298.30 182.07,297.15 183.50,297.10 C184.93,297.05 185.72,298.15 187.30,299.00 C188.88,299.85 190.80,300.95 193.00,302.20 C195.20,303.45 198.62,305.08 200.50,306.50 C202.38,307.92 202.93,309.20 204.30,310.70 C205.67,312.20 207.43,315.02 208.70,315.50 C209.97,315.98 210.88,315.03 211.90,313.60 C212.92,312.17 213.85,309.92 214.80,306.90 C215.75,303.88 216.65,298.50 217.60,295.50 C218.55,292.50 219.62,290.47 220.50,288.90 C221.38,287.33 222.05,286.25 222.90,286.10 C223.75,285.95 224.58,286.27 225.60,288.00 C226.62,289.73 227.97,293.35 229.00,296.50 C230.03,299.65 230.85,303.58 231.80,306.90 C232.75,310.22 233.43,313.97 234.70,316.40 C235.97,318.83 237.82,320.93 239.40,321.50 C240.98,322.07 242.45,320.65 244.20,319.80 C245.95,318.95 248.32,317.75 249.90,316.40 C251.48,315.05 252.43,313.28 253.70,311.70 C254.97,310.12 256.23,308.02 257.50,306.90 C258.77,305.78 260.20,305.15 261.30,305.00 C262.40,304.85 263.15,305.68 264.10,306.00 C265.05,306.32 265.88,307.07 267.00,306.90 C268.12,306.73 269.38,305.68 270.80,305.00 C272.22,304.32 273.93,303.43 275.50,302.80 C277.07,302.17 279.10,301.40 280.20,301.20 C281.30,301.00 281.78,301.53 282.10,301.60 L282.10,300.90 L161.60,300.90 Z" fill="#fdd58a" clip-path="url(#c4_0)"/>
<path d="M161.60,302.80 C162.72,302.85 166.23,303.05 168.30,303.10 C170.37,303.15 172.27,303.73 174.00,303.10 C175.73,302.47 177.12,300.30 178.70,299.30 C180.28,298.30 182.07,297.15 183.50,297.10 C184.93,297.05 185.72,298.15 187.30,299.00 C188.88,299.85 190.80,300.95 193.00,302.20 C195.20,303.45 198.62,305.08 200.50,306.50 C202.38,307.92 202.93,309.20 204.30,310.70 C205.67,312.20 207.43,315.02 208.70,315.50 C209.97,315.98 210.88,315.03 211.90,313.60 C212.92,312.17 213.85,309.92 214.80,306.90 C215.75,303.88 216.65,298.50 217.60,295.50 C218.55,292.50 219.62,290.47 220.50,288.90 C221.38,287.33 222.05,286.25 222.90,286.10 C223.75,285.95 224.58,286.27 225.60,288.00 C226.62,289.73 227.97,293.35 229.00,296.50 C230.03,299.65 230.85,303.58 231.80,306.90 C232.75,310.22 233.43,313.97 234.70,316.40 C235.97,318.83 237.82,320.93 239.40,321.50 C240.98,322.07 242.45,320.65 244.20,319.80 C245.95,318.95 248.32,317.75 249.90,316.40 C251.48,315.05 252.43,313.28 253.70,311.70 C254.97,310.12 256.23,308.02 257.50,306.90 C258.77,305.78 260.20,305.15 261.30,305.00 C262.40,304.85 263.15,305.68 264.10,306.00 C265.05,306.32 265.88,307.07 267.00,306.90 C268.12,306.73 269.38,305.68 270.80,305.00 C272.22,304.32 273.93,303.43 275.50,302.80 C277.07,302.17 279.10,301.40 280.20,301.20 C281.30,301.00 281.78,301.53 282.10,301.60 L282.10,300.90 L161.60,300.90 Z" fill="#fbb535" clip-path="url(#c4_1)"/>
<path d="M161.60,302.80 C162.72,302.85 166.23,303.05 168.30,303.10 C170.37,303.15 172.27,303.73 174.00,303.10 C175.73,302.47 177.12,300.30 178.70,299.30 C180.28,298.30 182.07,297.15 183.50,297.10 C184.93,297.05 185.72,298.15 187.30,299.00 C188.88,299.85 190.80,300.95 193.00,302.20 C195.20,303.45 198.62,305.08 200.50,306.50 C202.38,307.92 202.93,309.20 204.30,310.70 C205.67,312.20 207.43,315.02 208.70,315.50 C209.97,315.98 210.88,315.03 211.90,313.60 C212.92,312.17 213.85,309.92 214.80,306.90 C215.75,303.88 216.65,298.50 217.60,295.50 C218.55,292.50 219.62,290.47 220.50,288.90 C221.38,287.33 222.05,286.25 222.90,286.10 C223.75,285.95 224.58,286.27 225.60,288.00 C226.62,289.73 227.97,293.35 229.00,296.50 C230.03,299.65 230.85,303.58 231.80,306.90 C232.75,310.22 233.43,313.97 234.70,316.40 C235.97,318.83 237.82,320.93 239.40,321.50 C240.98,322.07 242.45,320.65 244.20,319.80 C245.95,318.95 248.32,317.75 249.90,316.40 C251.48,315.05 252.43,313.28 253.70,311.70 C254.97,310.12 256.23,308.02 257.50,306.90 C258.77,305.78 260.20,305.15 261.30,305.00 C262.40,304.85 263.15,305.68 264.10,306.00 C265.05,306.32 265.88,307.07 267.00,306.90 C268.12,306.73 269.38,305.68 270.80,305.00 C272.22,304.32 273.93,303.43 275.50,302.80 C277.07,302.17 279.10,301.40 280.20,301.20 C281.30,301.00 281.78,301.53 282.10,301.60 L282.10,300.90 L161.60,300.90 Z" fill="#fdd58a" clip-path="url(#c4_2)"/>
<path d="M161.60,302.80 C162.72,302.85 166.23,303.05 168.30,303.10 C170.37,303.15 172.27,303.73 174.00,303.10 C175.73,302.47 177.12,300.30 178.70,299.30 C180.28,298.30 182.07,297.15 183.50,297.10 C184.93,297.05 185.72,298.15 187.30,299.00 C188.88,299.85 190.80,300.95 193.00,302.20 C195.20,303.45 198.62,305.08 200.50,306.50 C202.38,307.92 202.93,309.20 204.30,310.70 C205.67,312.20 207.43,315.02 208.70,315.50 C209.97,315.98 210.88,315.03 211.90,313.60 C212.92,312.17 213.85,309.92 214.80,306.90 C215.75,303.88 216.65,298.50 217.60,295.50 C218.55,292.50 219.62,290.47 220.50,288.90 C221.38,287.33 222.05,286.25 222.90,286.10 C223.75,285.95 224.58,286.27 225.60,288.00 C226.62,289.73 227.97,293.35 229.00,296.50 C230.03,299.65 230.85,303.58 231.80,306.90 C232.75,310.22 233.43,313.97 234.70,316.40 C235.97,318.83 237.82,320.93 239.40,321.50 C240.98,322.07 242.45,320.65 244.20,319.80 C245.95,318.95 248.32,317.75 249.90,316.40 C251.48,315.05 252.43,313.28 253.70,311.70 C254.97,310.12 256.23,308.02 257.50,306.90 C258.77,305.78 260.20,305.15 261.30,305.00 C262.40,304.85 263.15,305.68 264.10,306.00 C265.05,306.32 265.88,307.07 267.00,306.90 C268.12,306.73 269.38,305.68 270.80,305.00 C272.22,304.32 273.93,303.43 275.50,302.80 C277.07,302.17 279.10,301.40 280.20,301.20 C281.30,301.00 281.78,301.53 282.10,301.60" fill="none" stroke="#f5ab25" stroke-width="1.2" stroke-linejoin="round"/>
<path d="M161.60,366.50 C162.55,366.65 165.23,366.87 167.30,367.40 C169.37,367.93 171.93,369.22 174.00,369.70 C176.07,370.18 177.80,370.10 179.70,370.30 C181.60,370.50 183.50,371.53 185.40,370.90 C187.30,370.27 189.22,367.65 191.10,366.50 C192.98,365.35 194.97,364.73 196.70,364.00 C198.43,363.27 200.07,362.42 201.50,362.10 C202.93,361.78 204.20,362.32 205.30,362.10 C206.40,361.88 207.15,361.80 208.10,360.80 C209.05,359.80 210.05,357.68 211.00,356.10 C211.95,354.52 212.95,352.42 213.80,351.30 C214.65,350.18 215.30,349.23 216.10,349.40 C216.90,349.57 217.72,350.57 218.60,352.30 C219.48,354.03 220.55,357.33 221.40,359.80 C222.25,362.27 222.90,365.03 223.70,367.10 C224.50,369.17 225.15,370.40 226.20,372.20 C227.25,374.00 228.97,376.73 230.00,377.90 C231.03,379.07 231.47,379.37 232.40,379.20 C233.33,379.03 234.12,377.75 235.60,376.90 C237.08,376.05 239.23,375.20 241.30,374.10 C243.37,373.00 246.10,371.42 248.00,370.30 C249.90,369.18 251.12,368.13 252.70,367.40 C254.28,366.67 256.07,365.73 257.50,365.90 C258.93,366.07 259.88,367.45 261.30,368.40 C262.72,369.35 264.12,371.07 266.00,371.60 C267.88,372.13 270.55,371.92 272.60,371.60 C274.65,371.28 276.65,370.23 278.30,369.70 C279.95,369.17 281.80,368.62 282.50,368.40 L282.50,367.80 L161.60,367.80 Z" fill="#fbb535" clip-path="url(#c5_0)"/>
<path d="M161.60,366.50 C162.55,366.65 165.23,366.87 167.30,367.40 C169.37,367.93 171.93,369.22 174.00,369.70 C176.07,370.18 177.80,370.10 179.70,370.30 C181.60,370.50 183.50,371.53 185.40,370.90 C187.30,370.27 189.22,367.65 191.10,366.50 C192.98,365.35 194.97,364.73 196.70,364.00 C198.43,363.27 200.07,362.42 201.50,362.10 C202.93,361.78 204.20,362.32 205.30,362.10 C206.40,361.88 207.15,361.80 208.10,360.80 C209.05,359.80 210.05,357.68 211.00,356.10 C211.95,354.52 212.95,352.42 213.80,351.30 C214.65,350.18 215.30,349.23 216.10,349.40 C216.90,349.57 217.72,350.57 218.60,352.30 C219.48,354.03 220.55,357.33 221.40,359.80 C222.25,362.27 222.90,365.03 223.70,367.10 C224.50,369.17 225.15,370.40 226.20,372.20 C227.25,374.00 228.97,376.73 230.00,377.90 C231.03,379.07 231.47,379.37 232.40,379.20 C233.33,379.03 234.12,377.75 235.60,376.90 C237.08,376.05 239.23,375.20 241.30,374.10 C243.37,373.00 246.10,371.42 248.00,370.30 C249.90,369.18 251.12,368.13 252.70,367.40 C254.28,366.67 256.07,365.73 257.50,365.90 C258.93,366.07 259.88,367.45 261.30,368.40 C262.72,369.35 264.12,371.07 266.00,371.60 C267.88,372.13 270.55,371.92 272.60,371.60 C274.65,371.28 276.65,370.23 278.30,369.70 C279.95,369.17 281.80,368.62 282.50,368.40 L282.50,367.80 L161.60,367.80 Z" fill="#fdd58a" clip-path="url(#c5_1)"/>
<path d="M161.60,366.50 C162.55,366.65 165.23,366.87 167.30,367.40 C169.37,367.93 171.93,369.22 174.00,369.70 C176.07,370.18 177.80,370.10 179.70,370.30 C181.60,370.50 183.50,371.53 185.40,370.90 C187.30,370.27 189.22,367.65 191.10,366.50 C192.98,365.35 194.97,364.73 196.70,364.00 C198.43,363.27 200.07,362.42 201.50,362.10 C202.93,361.78 204.20,362.32 205.30,362.10 C206.40,361.88 207.15,361.80 208.10,360.80 C209.05,359.80 210.05,357.68 211.00,356.10 C211.95,354.52 212.95,352.42 213.80,351.30 C214.65,350.18 215.30,349.23 216.10,349.40 C216.90,349.57 217.72,350.57 218.60,352.30 C219.48,354.03 220.55,357.33 221.40,359.80 C222.25,362.27 222.90,365.03 223.70,367.10 C224.50,369.17 225.15,370.40 226.20,372.20 C227.25,374.00 228.97,376.73 230.00,377.90 C231.03,379.07 231.47,379.37 232.40,379.20 C233.33,379.03 234.12,377.75 235.60,376.90 C237.08,376.05 239.23,375.20 241.30,374.10 C243.37,373.00 246.10,371.42 248.00,370.30 C249.90,369.18 251.12,368.13 252.70,367.40 C254.28,366.67 256.07,365.73 257.50,365.90 C258.93,366.07 259.88,367.45 261.30,368.40 C262.72,369.35 264.12,371.07 266.00,371.60 C267.88,372.13 270.55,371.92 272.60,371.60 C274.65,371.28 276.65,370.23 278.30,369.70 C279.95,369.17 281.80,368.62 282.50,368.40" fill="none" stroke="#f5ab25" stroke-width="1.2" stroke-linejoin="round"/>
<path d="M161.60,434.00 C162.40,433.73 164.97,433.23 166.40,432.40 C167.83,431.57 168.93,430.10 170.20,429.00 C171.47,427.90 172.73,425.70 174.00,425.80 C175.27,425.90 176.38,428.02 177.80,429.60 C179.22,431.18 181.08,433.88 182.50,435.30 C183.92,436.72 184.87,438.10 186.30,438.10 C187.73,438.10 189.52,435.98 191.10,435.30 C192.68,434.62 194.38,433.85 195.80,434.00 C197.22,434.15 198.33,435.20 199.60,436.20 C200.87,437.20 202.13,438.42 203.40,440.00 C204.67,441.58 206.10,444.37 207.20,445.70 C208.30,447.03 209.05,448.15 210.00,448.00 C210.95,447.85 211.95,446.77 212.90,444.80 C213.85,442.83 214.75,439.83 215.70,436.20 C216.65,432.57 217.65,426.47 218.60,423.00 C219.55,419.53 220.37,417.15 221.40,415.40 C222.43,413.65 223.68,412.50 224.80,412.50 C225.92,412.50 227.08,413.65 228.10,415.40 C229.12,417.15 229.97,420.32 230.90,423.00 C231.83,425.68 232.82,428.98 233.70,431.50 C234.58,434.02 235.40,436.58 236.20,438.10 C237.00,439.62 237.48,440.03 238.50,440.60 C239.52,441.17 240.88,441.53 242.30,441.50 C243.72,441.47 245.42,440.80 247.00,440.40 C248.58,440.00 250.37,439.23 251.80,439.10 C253.23,438.97 254.02,439.45 255.60,439.60 C257.18,439.75 259.72,439.83 261.30,440.00 C262.88,440.17 263.83,440.12 265.10,440.60 C266.37,441.08 267.48,442.62 268.90,442.90 C270.32,443.18 272.18,442.62 273.60,442.30 C275.02,441.98 275.92,441.38 277.40,441.00 C278.88,440.62 281.65,440.17 282.50,440.00 L282.50,434.70 L161.60,434.70 Z" fill="#fdd58a" clip-path="url(#c6_0)"/>
<path d="M161.60,434.00 C162.40,433.73 164.97,433.23 166.40,432.40 C167.83,431.57 168.93,430.10 170.20,429.00 C171.47,427.90 172.73,425.70 174.00,425.80 C175.27,425.90 176.38,428.02 177.80,429.60 C179.22,431.18 181.08,433.88 182.50,435.30 C183.92,436.72 184.87,438.10 186.30,438.10 C187.73,438.10 189.52,435.98 191.10,435.30 C192.68,434.62 194.38,433.85 195.80,434.00 C197.22,434.15 198.33,435.20 199.60,436.20 C200.87,437.20 202.13,438.42 203.40,440.00 C204.67,441.58 206.10,444.37 207.20,445.70 C208.30,447.03 209.05,448.15 210.00,448.00 C210.95,447.85 211.95,446.77 212.90,444.80 C213.85,442.83 214.75,439.83 215.70,436.20 C216.65,432.57 217.65,426.47 218.60,423.00 C219.55,419.53 220.37,417.15 221.40,415.40 C222.43,413.65 223.68,412.50 224.80,412.50 C225.92,412.50 227.08,413.65 228.10,415.40 C229.12,417.15 229.97,420.32 230.90,423.00 C231.83,425.68 232.82,428.98 233.70,431.50 C234.58,434.02 235.40,436.58 236.20,438.10 C237.00,439.62 237.48,440.03 238.50,440.60 C239.52,441.17 240.88,441.53 242.30,441.50 C243.72,441.47 245.42,440.80 247.00,440.40 C248.58,440.00 250.37,439.23 251.80,439.10 C253.23,438.97 254.02,439.45 255.60,439.60 C257.18,439.75 259.72,439.83 261.30,440.00 C262.88,440.17 263.83,440.12 265.10,440.60 C266.37,441.08 267.48,442.62 268.90,442.90 C270.32,443.18 272.18,442.62 273.60,442.30 C275.02,441.98 275.92,441.38 277.40,441.00 C278.88,440.62 281.65,440.17 282.50,440.00 L282.50,434.70 L161.60,434.70 Z" fill="#fbb535" clip-path="url(#c6_1)"/>
<path d="M161.60,434.00 C162.40,433.73 164.97,433.23 166.40,432.40 C167.83,431.57 168.93,430.10 170.20,429.00 C171.47,427.90 172.73,425.70 174.00,425.80 C175.27,425.90 176.38,428.02 177.80,429.60 C179.22,431.18 181.08,433.88 182.50,435.30 C183.92,436.72 184.87,438.10 186.30,438.10 C187.73,438.10 189.52,435.98 191.10,435.30 C192.68,434.62 194.38,433.85 195.80,434.00 C197.22,434.15 198.33,435.20 199.60,436.20 C200.87,437.20 202.13,438.42 203.40,440.00 C204.67,441.58 206.10,444.37 207.20,445.70 C208.30,447.03 209.05,448.15 210.00,448.00 C210.95,447.85 211.95,446.77 212.90,444.80 C213.85,442.83 214.75,439.83 215.70,436.20 C216.65,432.57 217.65,426.47 218.60,423.00 C219.55,419.53 220.37,417.15 221.40,415.40 C222.43,413.65 223.68,412.50 224.80,412.50 C225.92,412.50 227.08,413.65 228.10,415.40 C229.12,417.15 229.97,420.32 230.90,423.00 C231.83,425.68 232.82,428.98 233.70,431.50 C234.58,434.02 235.40,436.58 236.20,438.10 C237.00,439.62 237.48,440.03 238.50,440.60 C239.52,441.17 240.88,441.53 242.30,441.50 C243.72,441.47 245.42,440.80 247.00,440.40 C248.58,440.00 250.37,439.23 251.80,439.10 C253.23,438.97 254.02,439.45 255.60,439.60 C257.18,439.75 259.72,439.83 261.30,440.00 C262.88,440.17 263.83,440.12 265.10,440.60 C266.37,441.08 267.48,442.62 268.90,442.90 C270.32,443.18 272.18,442.62 273.60,442.30 C275.02,441.98 275.92,441.38 277.40,441.00 C278.88,440.62 281.65,440.17 282.50,440.00 L282.50,434.70 L161.60,434.70 Z" fill="#fdd58a" clip-path="url(#c6_2)"/>
<path d="M161.60,434.00 C162.40,433.73 164.97,433.23 166.40,432.40 C167.83,431.57 168.93,430.10 170.20,429.00 C171.47,427.90 172.73,425.70 174.00,425.80 C175.27,425.90 176.38,428.02 177.80,429.60 C179.22,431.18 181.08,433.88 182.50,435.30 C183.92,436.72 184.87,438.10 186.30,438.10 C187.73,438.10 189.52,435.98 191.10,435.30 C192.68,434.62 194.38,433.85 195.80,434.00 C197.22,434.15 198.33,435.20 199.60,436.20 C200.87,437.20 202.13,438.42 203.40,440.00 C204.67,441.58 206.10,444.37 207.20,445.70 C208.30,447.03 209.05,448.15 210.00,448.00 C210.95,447.85 211.95,446.77 212.90,444.80 C213.85,442.83 214.75,439.83 215.70,436.20 C216.65,432.57 217.65,426.47 218.60,423.00 C219.55,419.53 220.37,417.15 221.40,415.40 C222.43,413.65 223.68,412.50 224.80,412.50 C225.92,412.50 227.08,413.65 228.10,415.40 C229.12,417.15 229.97,420.32 230.90,423.00 C231.83,425.68 232.82,428.98 233.70,431.50 C234.58,434.02 235.40,436.58 236.20,438.10 C237.00,439.62 237.48,440.03 238.50,440.60 C239.52,441.17 240.88,441.53 242.30,441.50 C243.72,441.47 245.42,440.80 247.00,440.40 C248.58,440.00 250.37,439.23 251.80,439.10 C253.23,438.97 254.02,439.45 255.60,439.60 C257.18,439.75 259.72,439.83 261.30,440.00 C262.88,440.17 263.83,440.12 265.10,440.60 C266.37,441.08 267.48,442.62 268.90,442.90 C270.32,443.18 272.18,442.62 273.60,442.30 C275.02,441.98 275.92,441.38 277.40,441.00 C278.88,440.62 281.65,440.17 282.50,440.00" fill="none" stroke="#f5ab25" stroke-width="1.2" stroke-linejoin="round"/>
<path d="M296.60,300.90 C297.40,300.90 299.65,300.78 301.40,300.90 C303.15,301.02 305.20,301.28 307.10,301.60 C309.00,301.92 310.90,302.60 312.80,302.80 C314.70,303.00 316.77,303.32 318.50,302.80 C320.23,302.28 321.62,300.53 323.20,299.70 C324.78,298.87 326.58,298.02 328.00,297.80 C329.42,297.58 330.45,298.47 331.70,298.40 C332.95,298.33 334.23,297.25 335.50,297.40 C336.77,297.55 338.03,298.40 339.30,299.30 C340.57,300.20 342.15,302.00 343.10,302.80 C344.05,303.60 344.37,304.05 345.00,304.10 C345.63,304.15 346.10,304.53 346.90,303.10 C347.70,301.67 348.85,298.82 349.80,295.50 C350.75,292.18 351.65,286.67 352.60,283.20 C353.55,279.73 354.48,276.50 355.50,274.70 C356.52,272.90 357.67,272.40 358.70,272.40 C359.73,272.40 360.65,272.73 361.70,274.70 C362.75,276.67 363.98,280.25 365.00,284.20 C366.02,288.15 367.02,294.62 367.80,298.40 C368.58,302.18 368.92,304.60 369.70,306.90 C370.48,309.20 371.40,311.40 372.50,312.20 C373.60,313.00 374.87,312.27 376.30,311.70 C377.73,311.13 379.35,309.98 381.10,308.80 C382.85,307.62 384.90,305.92 386.80,304.60 C388.70,303.28 390.60,301.83 392.50,300.90 C394.40,299.97 396.37,299.58 398.20,299.00 C400.03,298.42 401.93,297.28 403.50,297.40 C405.07,297.52 406.12,299.12 407.60,299.70 C409.08,300.28 410.75,300.48 412.40,300.90 C414.05,301.32 416.65,301.98 417.50,302.20 L417.50,300.30 L296.60,300.30 Z" fill="#c9a9ea" clip-path="url(#c7_0)"/>
<path d="M296.60,300.90 C297.40,300.90 299.65,300.78 301.40,300.90 C303.15,301.02 305.20,301.28 307.10,301.60 C309.00,301.92 310.90,302.60 312.80,302.80 C314.70,303.00 316.77,303.32 318.50,302.80 C320.23,302.28 321.62,300.53 323.20,299.70 C324.78,298.87 326.58,298.02 328.00,297.80 C329.42,297.58 330.45,298.47 331.70,298.40 C332.95,298.33 334.23,297.25 335.50,297.40 C336.77,297.55 338.03,298.40 339.30,299.30 C340.57,300.20 342.15,302.00 343.10,302.80 C344.05,303.60 344.37,304.05 345.00,304.10 C345.63,304.15 346.10,304.53 346.90,303.10 C347.70,301.67 348.85,298.82 349.80,295.50 C350.75,292.18 351.65,286.67 352.60,283.20 C353.55,279.73 354.48,276.50 355.50,274.70 C356.52,272.90 357.67,272.40 358.70,272.40 C359.73,272.40 360.65,272.73 361.70,274.70 C362.75,276.67 363.98,280.25 365.00,284.20 C366.02,288.15 367.02,294.62 367.80,298.40 C368.58,302.18 368.92,304.60 369.70,306.90 C370.48,309.20 371.40,311.40 372.50,312.20 C373.60,313.00 374.87,312.27 376.30,311.70 C377.73,311.13 379.35,309.98 381.10,308.80 C382.85,307.62 384.90,305.92 386.80,304.60 C388.70,303.28 390.60,301.83 392.50,300.90 C394.40,299.97 396.37,299.58 398.20,299.00 C400.03,298.42 401.93,297.28 403.50,297.40 C405.07,297.52 406.12,299.12 407.60,299.70 C409.08,300.28 410.75,300.48 412.40,300.90 C414.05,301.32 416.65,301.98 417.50,302.20 L417.50,300.30 L296.60,300.30 Z" fill="#a56ce0" clip-path="url(#c7_1)"/>
<path d="M296.60,300.90 C297.40,300.90 299.65,300.78 301.40,300.90 C303.15,301.02 305.20,301.28 307.10,301.60 C309.00,301.92 310.90,302.60 312.80,302.80 C314.70,303.00 316.77,303.32 318.50,302.80 C320.23,302.28 321.62,300.53 323.20,299.70 C324.78,298.87 326.58,298.02 328.00,297.80 C329.42,297.58 330.45,298.47 331.70,298.40 C332.95,298.33 334.23,297.25 335.50,297.40 C336.77,297.55 338.03,298.40 339.30,299.30 C340.57,300.20 342.15,302.00 343.10,302.80 C344.05,303.60 344.37,304.05 345.00,304.10 C345.63,304.15 346.10,304.53 346.90,303.10 C347.70,301.67 348.85,298.82 349.80,295.50 C350.75,292.18 351.65,286.67 352.60,283.20 C353.55,279.73 354.48,276.50 355.50,274.70 C356.52,272.90 357.67,272.40 358.70,272.40 C359.73,272.40 360.65,272.73 361.70,274.70 C362.75,276.67 363.98,280.25 365.00,284.20 C366.02,288.15 367.02,294.62 367.80,298.40 C368.58,302.18 368.92,304.60 369.70,306.90 C370.48,309.20 371.40,311.40 372.50,312.20 C373.60,313.00 374.87,312.27 376.30,311.70 C377.73,311.13 379.35,309.98 381.10,308.80 C382.85,307.62 384.90,305.92 386.80,304.60 C388.70,303.28 390.60,301.83 392.50,300.90 C394.40,299.97 396.37,299.58 398.20,299.00 C400.03,298.42 401.93,297.28 403.50,297.40 C405.07,297.52 406.12,299.12 407.60,299.70 C409.08,300.28 410.75,300.48 412.40,300.90 C414.05,301.32 416.65,301.98 417.50,302.20 L417.50,300.30 L296.60,300.30 Z" fill="#c9a9ea" clip-path="url(#c7_2)"/>
<path d="M296.60,300.90 C297.40,300.90 299.65,300.78 301.40,300.90 C303.15,301.02 305.20,301.28 307.10,301.60 C309.00,301.92 310.90,302.60 312.80,302.80 C314.70,303.00 316.77,303.32 318.50,302.80 C320.23,302.28 321.62,300.53 323.20,299.70 C324.78,298.87 326.58,298.02 328.00,297.80 C329.42,297.58 330.45,298.47 331.70,298.40 C332.95,298.33 334.23,297.25 335.50,297.40 C336.77,297.55 338.03,298.40 339.30,299.30 C340.57,300.20 342.15,302.00 343.10,302.80 C344.05,303.60 344.37,304.05 345.00,304.10 C345.63,304.15 346.10,304.53 346.90,303.10 C347.70,301.67 348.85,298.82 349.80,295.50 C350.75,292.18 351.65,286.67 352.60,283.20 C353.55,279.73 354.48,276.50 355.50,274.70 C356.52,272.90 357.67,272.40 358.70,272.40 C359.73,272.40 360.65,272.73 361.70,274.70 C362.75,276.67 363.98,280.25 365.00,284.20 C366.02,288.15 367.02,294.62 367.80,298.40 C368.58,302.18 368.92,304.60 369.70,306.90 C370.48,309.20 371.40,311.40 372.50,312.20 C373.60,313.00 374.87,312.27 376.30,311.70 C377.73,311.13 379.35,309.98 381.10,308.80 C382.85,307.62 384.90,305.92 386.80,304.60 C388.70,303.28 390.60,301.83 392.50,300.90 C394.40,299.97 396.37,299.58 398.20,299.00 C400.03,298.42 401.93,297.28 403.50,297.40 C405.07,297.52 406.12,299.12 407.60,299.70 C409.08,300.28 410.75,300.48 412.40,300.90 C414.05,301.32 416.65,301.98 417.50,302.20" fill="none" stroke="#9438e0" stroke-width="1.2" stroke-linejoin="round"/>
<path d="M296.60,369.30 C297.23,369.25 299.28,368.93 300.40,369.00 C301.52,369.07 302.18,369.90 303.30,369.70 C304.42,369.50 306.00,367.70 307.10,367.80 C308.20,367.90 308.63,369.67 309.90,370.30 C311.17,370.93 313.27,371.18 314.70,371.60 C316.13,372.02 317.40,373.12 318.50,372.80 C319.60,372.48 320.20,370.85 321.30,369.70 C322.40,368.55 323.68,366.85 325.10,365.90 C326.52,364.95 328.22,364.32 329.80,364.00 C331.38,363.68 333.17,363.58 334.60,364.00 C336.03,364.42 337.13,365.30 338.40,366.50 C339.67,367.70 340.85,369.62 342.20,371.20 C343.55,372.78 345.33,375.62 346.50,376.00 C347.67,376.38 348.33,375.25 349.20,373.50 C350.07,371.75 350.82,369.03 351.70,365.50 C352.58,361.97 353.47,356.08 354.50,352.30 C355.53,348.52 356.78,344.87 357.90,342.80 C359.02,340.73 360.18,339.58 361.20,339.90 C362.22,340.22 363.15,342.00 364.00,344.70 C364.85,347.40 365.52,352.05 366.30,356.10 C367.08,360.15 367.82,365.22 368.70,369.00 C369.58,372.78 370.48,376.05 371.60,378.80 C372.72,381.55 374.13,384.70 375.40,385.50 C376.67,386.30 377.78,384.72 379.20,383.60 C380.62,382.48 382.17,380.70 383.90,378.80 C385.63,376.90 387.92,373.83 389.60,372.20 C391.28,370.57 392.57,369.85 394.00,369.00 C395.43,368.15 396.87,367.10 398.20,367.10 C399.53,367.10 400.75,368.57 402.00,369.00 C403.25,369.43 404.45,369.33 405.70,369.70 C406.95,370.07 408.23,370.88 409.50,371.20 C410.77,371.52 411.97,371.33 413.30,371.60 C414.63,371.87 416.80,372.60 417.50,372.80 L417.50,367.40 L296.60,367.40 Z" fill="#c9a9ea" clip-path="url(#c8_0)"/>
<path d="M296.60,369.30 C297.23,369.25 299.28,368.93 300.40,369.00 C301.52,369.07 302.18,369.90 303.30,369.70 C304.42,369.50 306.00,367.70 307.10,367.80 C308.20,367.90 308.63,369.67 309.90,370.30 C311.17,370.93 313.27,371.18 314.70,371.60 C316.13,372.02 317.40,373.12 318.50,372.80 C319.60,372.48 320.20,370.85 321.30,369.70 C322.40,368.55 323.68,366.85 325.10,365.90 C326.52,364.95 328.22,364.32 329.80,364.00 C331.38,363.68 333.17,363.58 334.60,364.00 C336.03,364.42 337.13,365.30 338.40,366.50 C339.67,367.70 340.85,369.62 342.20,371.20 C343.55,372.78 345.33,375.62 346.50,376.00 C347.67,376.38 348.33,375.25 349.20,373.50 C350.07,371.75 350.82,369.03 351.70,365.50 C352.58,361.97 353.47,356.08 354.50,352.30 C355.53,348.52 356.78,344.87 357.90,342.80 C359.02,340.73 360.18,339.58 361.20,339.90 C362.22,340.22 363.15,342.00 364.00,344.70 C364.85,347.40 365.52,352.05 366.30,356.10 C367.08,360.15 367.82,365.22 368.70,369.00 C369.58,372.78 370.48,376.05 371.60,378.80 C372.72,381.55 374.13,384.70 375.40,385.50 C376.67,386.30 377.78,384.72 379.20,383.60 C380.62,382.48 382.17,380.70 383.90,378.80 C385.63,376.90 387.92,373.83 389.60,372.20 C391.28,370.57 392.57,369.85 394.00,369.00 C395.43,368.15 396.87,367.10 398.20,367.10 C399.53,367.10 400.75,368.57 402.00,369.00 C403.25,369.43 404.45,369.33 405.70,369.70 C406.95,370.07 408.23,370.88 409.50,371.20 C410.77,371.52 411.97,371.33 413.30,371.60 C414.63,371.87 416.80,372.60 417.50,372.80 L417.50,367.40 L296.60,367.40 Z" fill="#a56ce0" clip-path="url(#c8_1)"/>
<path d="M296.60,369.30 C297.23,369.25 299.28,368.93 300.40,369.00 C301.52,369.07 302.18,369.90 303.30,369.70 C304.42,369.50 306.00,367.70 307.10,367.80 C308.20,367.90 308.63,369.67 309.90,370.30 C311.17,370.93 313.27,371.18 314.70,371.60 C316.13,372.02 317.40,373.12 318.50,372.80 C319.60,372.48 320.20,370.85 321.30,369.70 C322.40,368.55 323.68,366.85 325.10,365.90 C326.52,364.95 328.22,364.32 329.80,364.00 C331.38,363.68 333.17,363.58 334.60,364.00 C336.03,364.42 337.13,365.30 338.40,366.50 C339.67,367.70 340.85,369.62 342.20,371.20 C343.55,372.78 345.33,375.62 346.50,376.00 C347.67,376.38 348.33,375.25 349.20,373.50 C350.07,371.75 350.82,369.03 351.70,365.50 C352.58,361.97 353.47,356.08 354.50,352.30 C355.53,348.52 356.78,344.87 357.90,342.80 C359.02,340.73 360.18,339.58 361.20,339.90 C362.22,340.22 363.15,342.00 364.00,344.70 C364.85,347.40 365.52,352.05 366.30,356.10 C367.08,360.15 367.82,365.22 368.70,369.00 C369.58,372.78 370.48,376.05 371.60,378.80 C372.72,381.55 374.13,384.70 375.40,385.50 C376.67,386.30 377.78,384.72 379.20,383.60 C380.62,382.48 382.17,380.70 383.90,378.80 C385.63,376.90 387.92,373.83 389.60,372.20 C391.28,370.57 392.57,369.85 394.00,369.00 C395.43,368.15 396.87,367.10 398.20,367.10 C399.53,367.10 400.75,368.57 402.00,369.00 C403.25,369.43 404.45,369.33 405.70,369.70 C406.95,370.07 408.23,370.88 409.50,371.20 C410.77,371.52 411.97,371.33 413.30,371.60 C414.63,371.87 416.80,372.60 417.50,372.80 L417.50,367.40 L296.60,367.40 Z" fill="#c9a9ea" clip-path="url(#c8_2)"/>
<path d="M296.60,369.30 C297.23,369.25 299.28,368.93 300.40,369.00 C301.52,369.07 302.18,369.90 303.30,369.70 C304.42,369.50 306.00,367.70 307.10,367.80 C308.20,367.90 308.63,369.67 309.90,370.30 C311.17,370.93 313.27,371.18 314.70,371.60 C316.13,372.02 317.40,373.12 318.50,372.80 C319.60,372.48 320.20,370.85 321.30,369.70 C322.40,368.55 323.68,366.85 325.10,365.90 C326.52,364.95 328.22,364.32 329.80,364.00 C331.38,363.68 333.17,363.58 334.60,364.00 C336.03,364.42 337.13,365.30 338.40,366.50 C339.67,367.70 340.85,369.62 342.20,371.20 C343.55,372.78 345.33,375.62 346.50,376.00 C347.67,376.38 348.33,375.25 349.20,373.50 C350.07,371.75 350.82,369.03 351.70,365.50 C352.58,361.97 353.47,356.08 354.50,352.30 C355.53,348.52 356.78,344.87 357.90,342.80 C359.02,340.73 360.18,339.58 361.20,339.90 C362.22,340.22 363.15,342.00 364.00,344.70 C364.85,347.40 365.52,352.05 366.30,356.10 C367.08,360.15 367.82,365.22 368.70,369.00 C369.58,372.78 370.48,376.05 371.60,378.80 C372.72,381.55 374.13,384.70 375.40,385.50 C376.67,386.30 377.78,384.72 379.20,383.60 C380.62,382.48 382.17,380.70 383.90,378.80 C385.63,376.90 387.92,373.83 389.60,372.20 C391.28,370.57 392.57,369.85 394.00,369.00 C395.43,368.15 396.87,367.10 398.20,367.10 C399.53,367.10 400.75,368.57 402.00,369.00 C403.25,369.43 404.45,369.33 405.70,369.70 C406.95,370.07 408.23,370.88 409.50,371.20 C410.77,371.52 411.97,371.33 413.30,371.60 C414.63,371.87 416.80,372.60 417.50,372.80" fill="none" stroke="#9438e0" stroke-width="1.2" stroke-linejoin="round"/>
<path d="M296.60,434.00 C297.23,434.12 299.45,434.65 300.40,434.70 C301.35,434.75 301.50,433.98 302.30,434.30 C303.10,434.62 304.08,435.90 305.20,436.60 C306.32,437.30 307.58,437.93 309.00,438.50 C310.42,439.07 312.12,439.43 313.70,440.00 C315.28,440.57 317.23,441.90 318.50,441.90 C319.77,441.90 320.35,441.32 321.30,440.00 C322.25,438.68 323.08,435.63 324.20,434.00 C325.32,432.37 326.58,431.03 328.00,430.20 C329.42,429.37 331.13,429.32 332.70,429.00 C334.27,428.68 336.23,428.30 337.40,428.30 C338.57,428.30 338.90,428.00 339.70,429.00 C340.50,430.00 341.32,431.83 342.20,434.30 C343.08,436.77 344.05,440.95 345.00,443.80 C345.95,446.65 346.95,450.77 347.90,451.40 C348.85,452.03 349.75,450.13 350.70,447.60 C351.65,445.07 352.65,440.93 353.60,436.20 C354.55,431.47 355.45,424.25 356.40,419.20 C357.35,414.15 358.35,409.45 359.30,405.90 C360.25,402.35 361.22,397.90 362.10,397.90 C362.98,397.90 363.80,402.05 364.60,405.90 C365.40,409.75 366.22,416.32 366.90,421.00 C367.58,425.68 368.08,430.20 368.70,434.00 C369.32,437.80 369.80,440.58 370.60,443.80 C371.40,447.02 372.55,451.08 373.50,453.30 C374.45,455.52 375.35,456.62 376.30,457.10 C377.25,457.58 378.08,456.20 379.20,456.20 C380.32,456.20 381.90,457.27 383.00,457.10 C384.10,456.93 384.85,456.78 385.80,455.20 C386.75,453.62 387.58,450.28 388.70,447.60 C389.82,444.92 391.23,441.05 392.50,439.10 C393.77,437.15 394.88,436.53 396.30,435.90 C397.72,435.27 399.43,435.08 401.00,435.30 C402.57,435.52 404.28,436.42 405.70,437.20 C407.12,437.98 408.23,439.37 409.50,440.00 C410.77,440.63 411.97,440.77 413.30,441.00 C414.63,441.23 416.80,441.33 417.50,441.40 L417.50,434.70 L296.60,434.70 Z" fill="#c9a9ea" clip-path="url(#c9_0)"/>
<path d="M296.60,434.00 C297.23,434.12 299.45,434.65 300.40,434.70 C301.35,434.75 301.50,433.98 302.30,434.30 C303.10,434.62 304.08,435.90 305.20,436.60 C306.32,437.30 307.58,437.93 309.00,438.50 C310.42,439.07 312.12,439.43 313.70,440.00 C315.28,440.57 317.23,441.90 318.50,441.90 C319.77,441.90 320.35,441.32 321.30,440.00 C322.25,438.68 323.08,435.63 324.20,434.00 C325.32,432.37 326.58,431.03 328.00,430.20 C329.42,429.37 331.13,429.32 332.70,429.00 C334.27,428.68 336.23,428.30 337.40,428.30 C338.57,428.30 338.90,428.00 339.70,429.00 C340.50,430.00 341.32,431.83 342.20,434.30 C343.08,436.77 344.05,440.95 345.00,443.80 C345.95,446.65 346.95,450.77 347.90,451.40 C348.85,452.03 349.75,450.13 350.70,447.60 C351.65,445.07 352.65,440.93 353.60,436.20 C354.55,431.47 355.45,424.25 356.40,419.20 C357.35,414.15 358.35,409.45 359.30,405.90 C360.25,402.35 361.22,397.90 362.10,397.90 C362.98,397.90 363.80,402.05 364.60,405.90 C365.40,409.75 366.22,416.32 366.90,421.00 C367.58,425.68 368.08,430.20 368.70,434.00 C369.32,437.80 369.80,440.58 370.60,443.80 C371.40,447.02 372.55,451.08 373.50,453.30 C374.45,455.52 375.35,456.62 376.30,457.10 C377.25,457.58 378.08,456.20 379.20,456.20 C380.32,456.20 381.90,457.27 383.00,457.10 C384.10,456.93 384.85,456.78 385.80,455.20 C386.75,453.62 387.58,450.28 388.70,447.60 C389.82,444.92 391.23,441.05 392.50,439.10 C393.77,437.15 394.88,436.53 396.30,435.90 C397.72,435.27 399.43,435.08 401.00,435.30 C402.57,435.52 404.28,436.42 405.70,437.20 C407.12,437.98 408.23,439.37 409.50,440.00 C410.77,440.63 411.97,440.77 413.30,441.00 C414.63,441.23 416.80,441.33 417.50,441.40 L417.50,434.70 L296.60,434.70 Z" fill="#a56ce0" clip-path="url(#c9_1)"/>
<path d="M296.60,434.00 C297.23,434.12 299.45,434.65 300.40,434.70 C301.35,434.75 301.50,433.98 302.30,434.30 C303.10,434.62 304.08,435.90 305.20,436.60 C306.32,437.30 307.58,437.93 309.00,438.50 C310.42,439.07 312.12,439.43 313.70,440.00 C315.28,440.57 317.23,441.90 318.50,441.90 C319.77,441.90 320.35,441.32 321.30,440.00 C322.25,438.68 323.08,435.63 324.20,434.00 C325.32,432.37 326.58,431.03 328.00,430.20 C329.42,429.37 331.13,429.32 332.70,429.00 C334.27,428.68 336.23,428.30 337.40,428.30 C338.57,428.30 338.90,428.00 339.70,429.00 C340.50,430.00 341.32,431.83 342.20,434.30 C343.08,436.77 344.05,440.95 345.00,443.80 C345.95,446.65 346.95,450.77 347.90,451.40 C348.85,452.03 349.75,450.13 350.70,447.60 C351.65,445.07 352.65,440.93 353.60,436.20 C354.55,431.47 355.45,424.25 356.40,419.20 C357.35,414.15 358.35,409.45 359.30,405.90 C360.25,402.35 361.22,397.90 362.10,397.90 C362.98,397.90 363.80,402.05 364.60,405.90 C365.40,409.75 366.22,416.32 366.90,421.00 C367.58,425.68 368.08,430.20 368.70,434.00 C369.32,437.80 369.80,440.58 370.60,443.80 C371.40,447.02 372.55,451.08 373.50,453.30 C374.45,455.52 375.35,456.62 376.30,457.10 C377.25,457.58 378.08,456.20 379.20,456.20 C380.32,456.20 381.90,457.27 383.00,457.10 C384.10,456.93 384.85,456.78 385.80,455.20 C386.75,453.62 387.58,450.28 388.70,447.60 C389.82,444.92 391.23,441.05 392.50,439.10 C393.77,437.15 394.88,436.53 396.30,435.90 C397.72,435.27 399.43,435.08 401.00,435.30 C402.57,435.52 404.28,436.42 405.70,437.20 C407.12,437.98 408.23,439.37 409.50,440.00 C410.77,440.63 411.97,440.77 413.30,441.00 C414.63,441.23 416.80,441.33 417.50,441.40 L417.50,434.70 L296.60,434.70 Z" fill="#c9a9ea" clip-path="url(#c9_2)"/>
<path d="M296.60,434.00 C297.23,434.12 299.45,434.65 300.40,434.70 C301.35,434.75 301.50,433.98 302.30,434.30 C303.10,434.62 304.08,435.90 305.20,436.60 C306.32,437.30 307.58,437.93 309.00,438.50 C310.42,439.07 312.12,439.43 313.70,440.00 C315.28,440.57 317.23,441.90 318.50,441.90 C319.77,441.90 320.35,441.32 321.30,440.00 C322.25,438.68 323.08,435.63 324.20,434.00 C325.32,432.37 326.58,431.03 328.00,430.20 C329.42,429.37 331.13,429.32 332.70,429.00 C334.27,428.68 336.23,428.30 337.40,428.30 C338.57,428.30 338.90,428.00 339.70,429.00 C340.50,430.00 341.32,431.83 342.20,434.30 C343.08,436.77 344.05,440.95 345.00,443.80 C345.95,446.65 346.95,450.77 347.90,451.40 C348.85,452.03 349.75,450.13 350.70,447.60 C351.65,445.07 352.65,440.93 353.60,436.20 C354.55,431.47 355.45,424.25 356.40,419.20 C357.35,414.15 358.35,409.45 359.30,405.90 C360.25,402.35 361.22,397.90 362.10,397.90 C362.98,397.90 363.80,402.05 364.60,405.90 C365.40,409.75 366.22,416.32 366.90,421.00 C367.58,425.68 368.08,430.20 368.70,434.00 C369.32,437.80 369.80,440.58 370.60,443.80 C371.40,447.02 372.55,451.08 373.50,453.30 C374.45,455.52 375.35,456.62 376.30,457.10 C377.25,457.58 378.08,456.20 379.20,456.20 C380.32,456.20 381.90,457.27 383.00,457.10 C384.10,456.93 384.85,456.78 385.80,455.20 C386.75,453.62 387.58,450.28 388.70,447.60 C389.82,444.92 391.23,441.05 392.50,439.10 C393.77,437.15 394.88,436.53 396.30,435.90 C397.72,435.27 399.43,435.08 401.00,435.30 C402.57,435.52 404.28,436.42 405.70,437.20 C407.12,437.98 408.23,439.37 409.50,440.00 C410.77,440.63 411.97,440.77 413.30,441.00 C414.63,441.23 416.80,441.33 417.50,441.40" fill="none" stroke="#9438e0" stroke-width="1.2" stroke-linejoin="round"/>
<text transform="translate(27.95,275.30) scale(0.9720,1)" font-size="11.30" font-weight="normal" font-style="italic" fill="#111">ACh</text>
<text transform="translate(26.87,340.90) scale(0.9720,1)" font-size="11.30" font-weight="normal" font-style="italic" fill="#111">Meta</text>
<text transform="translate(29.05,408.80) scale(0.9720,1)" font-size="11.30" font-weight="normal" font-style="italic" fill="#111">Are</text>
<text transform="translate(27.00,476.60) scale(0.9720,1)" font-size="11.30" font-weight="normal" font-style="italic" fill="#111">Carb</text>
<text transform="translate(167.97,275.60) scale(0.9720,1)" font-size="11.30" font-weight="normal" font-style="italic" fill="#111">Pilo</text>
<text transform="translate(168.37,341.30) scale(0.9720,1)" font-size="11.30" font-weight="normal" font-style="italic" fill="#111">McN</text>
<text transform="translate(168.46,407.80) scale(0.9720,1)" font-size="11.30" font-weight="normal" font-style="italic" fill="#111">Xano</text>
<text transform="translate(300.95,275.60) scale(0.9720,1)" font-size="11.30" font-weight="normal" font-style="italic" fill="#111">Atro</text>
<text transform="translate(300.67,341.80) scale(0.9720,1)" font-size="11.30" font-weight="normal" font-style="italic" fill="#111">Sco</text>
<text transform="translate(300.96,408.70) scale(0.9720,1)" font-size="11.30" font-weight="normal" font-style="italic" fill="#111">Ipra</text>
<line x1="87.1" y1="257.5" x2="87.1" y2="265.8" stroke="#666" stroke-width="0.75"/>
<circle cx="87.1" cy="253.0" r="4.40" fill="#fff" stroke="#1a1a1a" stroke-width="0.85"/><text x="87.1" y="255.8" font-size="8.2" font-weight="normal" text-anchor="middle" fill="#1a1a1a" stroke="#1a1a1a" stroke-width="0.25">2</text>
<line x1="66.5" y1="339.0" x2="73.1" y2="335.5" stroke="#666" stroke-width="0.75"/>
<circle cx="62.7" cy="341.6" r="4.40" fill="#fff" stroke="#1a1a1a" stroke-width="0.85"/><text x="62.7" y="344.5" font-size="8.2" font-weight="normal" text-anchor="middle" fill="#1a1a1a" stroke="#1a1a1a" stroke-width="0.25">1</text>
<line x1="106.3" y1="317.5" x2="106.3" y2="330.5" stroke="#666" stroke-width="0.75"/>
<circle cx="106.3" cy="335.0" r="4.40" fill="#fff" stroke="#1a1a1a" stroke-width="0.85"/><text x="106.3" y="337.9" font-size="8.2" font-weight="normal" text-anchor="middle" fill="#1a1a1a" stroke="#1a1a1a" stroke-width="0.25">3</text>
<line x1="89.3" y1="320.4" x2="86.8" y2="329.8" stroke="#666" stroke-width="0.75"/>
<circle cx="90.8" cy="315.2" r="4.40" fill="#fff" stroke="#1a1a1a" stroke-width="0.85"/><text x="90.8" y="318.1" font-size="8.2" font-weight="normal" text-anchor="middle" fill="#1a1a1a" stroke="#1a1a1a" stroke-width="0.25">2</text>
<line x1="66.5" y1="408.4" x2="73.1" y2="405.5" stroke="#666" stroke-width="0.75"/>
<circle cx="62.1" cy="411.2" r="4.40" fill="#fff" stroke="#1a1a1a" stroke-width="0.85"/><text x="62.1" y="414.1" font-size="8.2" font-weight="normal" text-anchor="middle" fill="#1a1a1a" stroke="#1a1a1a" stroke-width="0.25">1</text>
<line x1="106.3" y1="382.8" x2="106.3" y2="392.6" stroke="#666" stroke-width="0.75"/>
<circle cx="106.3" cy="397.0" r="4.40" fill="#fff" stroke="#1a1a1a" stroke-width="0.85"/><text x="106.3" y="399.9" font-size="8.2" font-weight="normal" text-anchor="middle" fill="#1a1a1a" stroke="#1a1a1a" stroke-width="0.25">3</text>
<line x1="89.3" y1="392.3" x2="86.4" y2="401.7" stroke="#666" stroke-width="0.75"/>
<circle cx="90.8" cy="386.6" r="4.40" fill="#fff" stroke="#1a1a1a" stroke-width="0.85"/><text x="90.8" y="389.5" font-size="8.2" font-weight="normal" text-anchor="middle" fill="#1a1a1a" stroke="#1a1a1a" stroke-width="0.25">2</text>
<line x1="65.5" y1="465.2" x2="72.2" y2="460.1" stroke="#666" stroke-width="0.75"/>
<circle cx="61.4" cy="468.3" r="4.40" fill="#fff" stroke="#1a1a1a" stroke-width="0.85"/><text x="61.4" y="471.2" font-size="8.2" font-weight="normal" text-anchor="middle" fill="#1a1a1a" stroke="#1a1a1a" stroke-width="0.25">1</text>
<line x1="106.3" y1="445.5" x2="106.3" y2="454.6" stroke="#666" stroke-width="0.75"/>
<circle cx="106.3" cy="459.2" r="4.40" fill="#fff" stroke="#1a1a1a" stroke-width="0.85"/><text x="106.3" y="462.1" font-size="8.2" font-weight="normal" text-anchor="middle" fill="#1a1a1a" stroke="#1a1a1a" stroke-width="0.25">3</text>
<line x1="86.4" y1="474.2" x2="86.4" y2="483.2" stroke="#666" stroke-width="0.75"/>
<circle cx="86.4" cy="469.5" r="4.40" fill="#fff" stroke="#1a1a1a" stroke-width="0.85"/><text x="86.4" y="472.4" font-size="8.2" font-weight="normal" text-anchor="middle" fill="#1a1a1a" stroke="#1a1a1a" stroke-width="0.25">2</text>
<line x1="73.5" y1="528.0" x2="73.5" y2="537.6" stroke="#666" stroke-width="0.75"/>
<circle cx="73.5" cy="542.0" r="4.40" fill="#fff" stroke="#1a1a1a" stroke-width="0.85"/><text x="73.5" y="544.9" font-size="8.2" font-weight="normal" text-anchor="middle" fill="#1a1a1a" stroke="#1a1a1a" stroke-width="0.25">1</text>
<line x1="106.3" y1="511.2" x2="106.3" y2="522.2" stroke="#666" stroke-width="0.75"/>
<circle cx="106.3" cy="526.4" r="4.40" fill="#fff" stroke="#1a1a1a" stroke-width="0.85"/><text x="106.3" y="529.2" font-size="8.2" font-weight="normal" text-anchor="middle" fill="#1a1a1a" stroke="#1a1a1a" stroke-width="0.25">3</text>
<line x1="222.9" y1="275.4" x2="222.9" y2="285.1" stroke="#666" stroke-width="0.75"/>
<circle cx="222.9" cy="270.9" r="4.40" fill="#fff" stroke="#1a1a1a" stroke-width="0.85"/><text x="222.9" y="273.8" font-size="8.2" font-weight="normal" text-anchor="middle" fill="#1a1a1a" stroke="#1a1a1a" stroke-width="0.25">2</text>
<line x1="200.5" y1="323.6" x2="208.1" y2="316.4" stroke="#666" stroke-width="0.75"/>
<circle cx="196.4" cy="327.1" r="4.40" fill="#fff" stroke="#1a1a1a" stroke-width="0.85"/><text x="196.4" y="330.0" font-size="8.2" font-weight="normal" text-anchor="middle" fill="#1a1a1a" stroke="#1a1a1a" stroke-width="0.25">1</text>
<line x1="239.4" y1="322.5" x2="239.4" y2="333.4" stroke="#666" stroke-width="0.75"/>
<circle cx="239.6" cy="337.8" r="4.40" fill="#fff" stroke="#1a1a1a" stroke-width="0.85"/><text x="239.6" y="340.7" font-size="8.2" font-weight="normal" text-anchor="middle" fill="#1a1a1a" stroke="#1a1a1a" stroke-width="0.25">3</text>
<line x1="215.5" y1="339.2" x2="215.5" y2="348.5" stroke="#666" stroke-width="0.75"/>
<circle cx="215.3" cy="334.8" r="4.40" fill="#fff" stroke="#1a1a1a" stroke-width="0.85"/><text x="215.3" y="337.7" font-size="8.2" font-weight="normal" text-anchor="middle" fill="#1a1a1a" stroke="#1a1a1a" stroke-width="0.25">2</text>
<line x1="200.5" y1="377.9" x2="204.7" y2="364.0" stroke="#666" stroke-width="0.75"/>
<circle cx="198.3" cy="382.2" r="4.40" fill="#fff" stroke="#1a1a1a" stroke-width="0.85"/><text x="198.3" y="385.1" font-size="8.2" font-weight="normal" text-anchor="middle" fill="#1a1a1a" stroke="#1a1a1a" stroke-width="0.25">1</text>
<line x1="232.8" y1="379.8" x2="240.4" y2="391.2" stroke="#666" stroke-width="0.75"/>
<circle cx="242.7" cy="395.0" r="4.40" fill="#fff" stroke="#1a1a1a" stroke-width="0.85"/><text x="242.7" y="397.9" font-size="8.2" font-weight="normal" text-anchor="middle" fill="#1a1a1a" stroke="#1a1a1a" stroke-width="0.25">3</text>
<line x1="224.8" y1="401.3" x2="224.8" y2="410.6" stroke="#666" stroke-width="0.75"/>
<circle cx="224.8" cy="396.8" r="4.40" fill="#fff" stroke="#1a1a1a" stroke-width="0.85"/><text x="224.8" y="399.7" font-size="8.2" font-weight="normal" text-anchor="middle" fill="#1a1a1a" stroke="#1a1a1a" stroke-width="0.25">2</text>
<line x1="205.3" y1="456.2" x2="209.6" y2="448.6" stroke="#666" stroke-width="0.75"/>
<circle cx="202.4" cy="461.3" r="4.40" fill="#fff" stroke="#1a1a1a" stroke-width="0.85"/><text x="202.4" y="464.2" font-size="8.2" font-weight="normal" text-anchor="middle" fill="#1a1a1a" stroke="#1a1a1a" stroke-width="0.25">1</text>
<line x1="240.4" y1="441.9" x2="245.7" y2="452.8" stroke="#666" stroke-width="0.75"/>
<circle cx="247.4" cy="457.1" r="4.40" fill="#fff" stroke="#1a1a1a" stroke-width="0.85"/><text x="247.4" y="460.0" font-size="8.2" font-weight="normal" text-anchor="middle" fill="#1a1a1a" stroke="#1a1a1a" stroke-width="0.25">3</text>
<line x1="359.0" y1="263.0" x2="359.0" y2="270.9" stroke="#666" stroke-width="0.75"/>
<circle cx="359.3" cy="258.5" r="4.40" fill="#fff" stroke="#1a1a1a" stroke-width="0.85"/><text x="359.3" y="261.4" font-size="8.2" font-weight="normal" text-anchor="middle" fill="#1a1a1a" stroke="#1a1a1a" stroke-width="0.25">2</text>
<line x1="339.7" y1="315.5" x2="344.6" y2="305.0" stroke="#666" stroke-width="0.75"/>
<circle cx="337.1" cy="320.2" r="4.40" fill="#fff" stroke="#1a1a1a" stroke-width="0.85"/><text x="337.1" y="323.1" font-size="8.2" font-weight="normal" text-anchor="middle" fill="#1a1a1a" stroke="#1a1a1a" stroke-width="0.25">1</text>
<line x1="375.4" y1="314.5" x2="380.1" y2="321.2" stroke="#666" stroke-width="0.75"/>
<circle cx="382.4" cy="325.0" r="4.40" fill="#fff" stroke="#1a1a1a" stroke-width="0.85"/><text x="382.4" y="327.9" font-size="8.2" font-weight="normal" text-anchor="middle" fill="#1a1a1a" stroke="#1a1a1a" stroke-width="0.25">3</text>
<line x1="360.5" y1="328.6" x2="360.5" y2="339.0" stroke="#666" stroke-width="0.75"/>
<circle cx="360.2" cy="324.2" r="4.40" fill="#fff" stroke="#1a1a1a" stroke-width="0.85"/><text x="360.2" y="327.1" font-size="8.2" font-weight="normal" text-anchor="middle" fill="#1a1a1a" stroke="#1a1a1a" stroke-width="0.25">2</text>
<line x1="342.2" y1="386.4" x2="346.0" y2="377.3" stroke="#666" stroke-width="0.75"/>
<circle cx="339.0" cy="390.6" r="4.40" fill="#fff" stroke="#1a1a1a" stroke-width="0.85"/><text x="339.0" y="393.5" font-size="8.2" font-weight="normal" text-anchor="middle" fill="#1a1a1a" stroke="#1a1a1a" stroke-width="0.25">1</text>
<line x1="375.8" y1="386.4" x2="380.1" y2="394.0" stroke="#666" stroke-width="0.75"/>
<circle cx="382.4" cy="398.2" r="4.40" fill="#fff" stroke="#1a1a1a" stroke-width="0.85"/><text x="382.4" y="401.1" font-size="8.2" font-weight="normal" text-anchor="middle" fill="#1a1a1a" stroke="#1a1a1a" stroke-width="0.25">3</text>
<line x1="362.3" y1="389.3" x2="362.3" y2="396.9" stroke="#666" stroke-width="0.75"/>
<circle cx="362.5" cy="384.9" r="4.40" fill="#fff" stroke="#1a1a1a" stroke-width="0.85"/><text x="362.5" y="387.8" font-size="8.2" font-weight="normal" text-anchor="middle" fill="#1a1a1a" stroke="#1a1a1a" stroke-width="0.25">2</text>
<line x1="348.8" y1="453.3" x2="348.8" y2="461.2" stroke="#666" stroke-width="0.75"/>
<circle cx="348.8" cy="465.6" r="4.40" fill="#fff" stroke="#1a1a1a" stroke-width="0.85"/><text x="348.8" y="468.5" font-size="8.2" font-weight="normal" text-anchor="middle" fill="#1a1a1a" stroke="#1a1a1a" stroke-width="0.25">1</text>
<line x1="375.0" y1="458.0" x2="375.0" y2="468.0" stroke="#666" stroke-width="0.75"/>
<circle cx="375.0" cy="472.3" r="4.40" fill="#fff" stroke="#1a1a1a" stroke-width="0.85"/><text x="375.0" y="475.2" font-size="8.2" font-weight="normal" text-anchor="middle" fill="#1a1a1a" stroke="#1a1a1a" stroke-width="0.25">3</text>
<g stroke="#333" stroke-width="1.2" fill="none">
<path d="M22.6,250.7 V553.5 H146"/>
<path d="M17.2,300.8 H22.6"/>
<path d="M17.2,368.2 H22.6"/>
<path d="M17.2,435.3 H22.6"/>
<path d="M17.2,502.3 H22.6"/>
<path d="M159.2,553.3 H282.9"/>
<path d="M294.2,553.3 H417.4"/>
<path d="M30.4,553.3 V559"/>
<path d="M56.0,553.3 V559"/>
<path d="M81.5,553.3 V559"/>
<path d="M107.1,553.3 V559"/>
<path d="M132.6,553.3 V559"/>
<path d="M167.3,553.3 V559"/>
<path d="M192.9,553.3 V559"/>
<path d="M218.4,553.3 V559"/>
<path d="M244.0,553.3 V559"/>
<path d="M269.5,553.3 V559"/>
<path d="M302.5,553.3 V559"/>
<path d="M328.1,553.3 V559"/>
<path d="M353.6,553.3 V559"/>
<path d="M379.1,553.3 V559"/>
<path d="M404.7,553.3 V559"/>
</g>
<text transform="translate(30.40,569.90) scale(0.9000,1)" font-size="9.40" font-weight="normal" font-style="normal" fill="#111" text-anchor="middle">1700</text>
<text transform="translate(55.95,569.90) scale(0.9000,1)" font-size="9.40" font-weight="normal" font-style="normal" fill="#111" text-anchor="middle">1680</text>
<text transform="translate(81.50,569.90) scale(0.9000,1)" font-size="9.40" font-weight="normal" font-style="normal" fill="#111" text-anchor="middle">1660</text>
<text transform="translate(107.05,569.90) scale(0.9000,1)" font-size="9.40" font-weight="normal" font-style="normal" fill="#111" text-anchor="middle">1640</text>
<text transform="translate(132.60,569.90) scale(0.9000,1)" font-size="9.40" font-weight="normal" font-style="normal" fill="#111" text-anchor="middle">1620</text>
<text transform="translate(167.30,569.90) scale(0.9000,1)" font-size="9.40" font-weight="normal" font-style="normal" fill="#111" text-anchor="middle">1700</text>
<text transform="translate(192.85,569.90) scale(0.9000,1)" font-size="9.40" font-weight="normal" font-style="normal" fill="#111" text-anchor="middle">1680</text>
<text transform="translate(218.40,569.90) scale(0.9000,1)" font-size="9.40" font-weight="normal" font-style="normal" fill="#111" text-anchor="middle">1660</text>
<text transform="translate(243.95,569.90) scale(0.9000,1)" font-size="9.40" font-weight="normal" font-style="normal" fill="#111" text-anchor="middle">1640</text>
<text transform="translate(269.50,569.90) scale(0.9000,1)" font-size="9.40" font-weight="normal" font-style="normal" fill="#111" text-anchor="middle">1620</text>
<text transform="translate(302.50,569.90) scale(0.9000,1)" font-size="9.40" font-weight="normal" font-style="normal" fill="#111" text-anchor="middle">1700</text>
<text transform="translate(328.05,569.90) scale(0.9000,1)" font-size="9.40" font-weight="normal" font-style="normal" fill="#111" text-anchor="middle">1680</text>
<text transform="translate(353.60,569.90) scale(0.9000,1)" font-size="9.40" font-weight="normal" font-style="normal" fill="#111" text-anchor="middle">1660</text>
<text transform="translate(379.15,569.90) scale(0.9000,1)" font-size="9.40" font-weight="normal" font-style="normal" fill="#111" text-anchor="middle">1640</text>
<text transform="translate(404.70,569.90) scale(0.9000,1)" font-size="9.40" font-weight="normal" font-style="normal" fill="#111" text-anchor="middle">1620</text>
<text transform="translate(31.34,595.00) scale(0.9766,1)" font-size="13.04" font-weight="normal" font-style="normal" fill="#111" >Wavenumber (cm</text>
<text transform="translate(131.51,586.70) scale(0.9600,1)" font-size="9.10" font-weight="normal" font-style="normal" fill="#111">-1</text>
<text transform="translate(140.87,595.00) scale(0.9600,1)" font-size="13.20" font-weight="normal" font-style="normal" fill="#111">)</text>
<text transform="translate(165.74,595.00) scale(0.9766,1)" font-size="13.04" font-weight="normal" font-style="normal" fill="#111" >Wavenumber (cm</text>
<text transform="translate(265.91,586.70) scale(0.9600,1)" font-size="9.10" font-weight="normal" font-style="normal" fill="#111">-1</text>
<text transform="translate(275.27,595.00) scale(0.9600,1)" font-size="13.20" font-weight="normal" font-style="normal" fill="#111">)</text>
<text transform="translate(300.74,595.00) scale(0.9766,1)" font-size="13.04" font-weight="normal" font-style="normal" fill="#111" >Wavenumber (cm</text>
<text transform="translate(400.91,586.70) scale(0.9600,1)" font-size="9.10" font-weight="normal" font-style="normal" fill="#111">-1</text>
<text transform="translate(410.27,595.00) scale(0.9600,1)" font-size="13.20" font-weight="normal" font-style="normal" fill="#111">)</text>
<text transform="translate(9,426.9) rotate(-90)" font-size="12.8" fill="#111">Diff. Abs.</text>
<rect x="512.40" y="267.25" width="117.95" height="12.90" fill="#ff0000" stroke="#1a1a1a" stroke-width="1.1"/>
<rect x="511.50" y="294.95" width="134.95" height="13.10" fill="#ff0000" stroke="#1a1a1a" stroke-width="1.1"/>
<rect x="511.50" y="323.75" width="115.35" height="12.20" fill="#ff0000" stroke="#1a1a1a" stroke-width="1.1"/>
<rect x="511.50" y="351.45" width="145.75" height="13.10" fill="#ff0000" stroke="#1a1a1a" stroke-width="1.1"/>
<rect x="511.50" y="379.95" width="76.45" height="12.80" fill="#ed7d31" stroke="#1a1a1a" stroke-width="1.1"/>
<rect x="511.50" y="407.85" width="39.75" height="13.10" fill="#ed7d31" stroke="#1a1a1a" stroke-width="1.1"/>
<rect x="511.50" y="436.35" width="100.75" height="12.40" fill="#ed7d31" stroke="#1a1a1a" stroke-width="1.1"/>
<rect x="511.50" y="466.55" width="53.85" height="12.90" fill="#7030a0" stroke="#1a1a1a" stroke-width="1.1"/>
<rect x="511.50" y="494.25" width="56.55" height="12.80" fill="#7030a0" stroke="#1a1a1a" stroke-width="1.1"/>
<rect x="511.50" y="522.75" width="74.55" height="13.10" fill="#7030a0" stroke="#1a1a1a" stroke-width="1.1"/>
<circle cx="633.2" cy="268.1" r="3.8" fill="#ff7f7f"/>
<circle cx="635.3" cy="273.0" r="3.8" fill="#ff7f7f"/>
<circle cx="633.2" cy="277.8" r="3.8" fill="#ff7f7f"/>
<path d="M640.2,301.6 H651.5 M640.2,299.1 V304.1 M651.5,299.1 V304.1" stroke="#777" stroke-width="0.9" fill="none"/>
<circle cx="640.2" cy="301.6" r="3.8" fill="#ff7f7f"/>
<circle cx="653.7" cy="296.6" r="3.8" fill="#ff7f7f"/>
<circle cx="650.9" cy="306.6" r="3.8" fill="#ff7f7f"/>
<path d="M627.0,330.0 H631.0 M627.0,327.5 V332.5 M631.0,327.5 V332.5" stroke="#777" stroke-width="0.9" fill="none"/>
<circle cx="624.8" cy="325.0" r="3.8" fill="#ff7f7f"/>
<circle cx="634.4" cy="325.0" r="3.8" fill="#ff7f7f"/>
<circle cx="630.4" cy="335.2" r="3.8" fill="#ff7f7f"/>
<path d="M652.4,358.1 H663.0 M652.4,355.6 V360.6 M663.0,355.6 V360.6" stroke="#777" stroke-width="0.9" fill="none"/>
<circle cx="652.4" cy="358.1" r="3.8" fill="#ff7f7f"/>
<circle cx="663.4" cy="353.1" r="3.8" fill="#ff7f7f"/>
<circle cx="662.4" cy="363.1" r="3.8" fill="#ff7f7f"/>
<path d="M587.0,386.5 H590.0 M587.0,384.0 V389.0 M590.0,384.0 V389.0" stroke="#777" stroke-width="0.9" fill="none"/>
<circle cx="584.5" cy="381.6" r="3.8" fill="#f9a040"/>
<circle cx="593.7" cy="381.6" r="3.8" fill="#f9a040"/>
<circle cx="589.1" cy="391.8" r="3.8" fill="#f9a040"/>
<path d="M549.0,414.0 H551.5 M549.0,411.5 V416.5 M551.5,411.5 V416.5" stroke="#777" stroke-width="0.9" fill="none"/>
<circle cx="548.7" cy="409.0" r="3.8" fill="#f9a040"/>
<circle cx="558.1" cy="414.0" r="3.8" fill="#f9a040"/>
<circle cx="550.7" cy="419.1" r="3.8" fill="#f9a040"/>
<path d="M607.6,442.3 H618.3 M607.6,439.8 V444.8 M618.3,439.8 V444.8" stroke="#777" stroke-width="0.9" fill="none"/>
<circle cx="602.9" cy="442.3" r="3.8" fill="#f9a040"/>
<circle cx="619.6" cy="437.4" r="3.8" fill="#f9a040"/>
<circle cx="618.8" cy="447.4" r="3.8" fill="#f9a040"/>
<path d="M567.0,473.0 H572.3 M567.0,470.5 V475.5 M572.3,470.5 V475.5" stroke="#777" stroke-width="0.9" fill="none"/>
<circle cx="556.8" cy="473.0" r="3.8" fill="#c055e0"/>
<circle cx="567.1" cy="473.0" r="3.8" fill="#c055e0"/>
<circle cx="577.3" cy="473.0" r="3.8" fill="#c055e0"/>
<path d="M557.7,500.1 H579.8 M557.7,497.6 V502.6 M579.8,497.6 V502.6" stroke="#777" stroke-width="0.9" fill="none"/>
<circle cx="547.2" cy="500.1" r="3.8" fill="#c055e0"/>
<circle cx="581.4" cy="495.3" r="3.8" fill="#c055e0"/>
<circle cx="578.8" cy="505.4" r="3.8" fill="#c055e0"/>
<circle cx="587.4" cy="523.4" r="3.8" fill="#c055e0"/>
<circle cx="590.4" cy="528.7" r="3.8" fill="#c055e0"/>
<circle cx="588.4" cy="533.5" r="3.8" fill="#c055e0"/>
<line x1="598.3" y1="263.4" x2="598.3" y2="551.5" stroke="#06acfb" stroke-width="2.5" stroke-dasharray="3.9 3.9" stroke-dashoffset="2.2"/>
<text transform="translate(482.95,277.40) scale(0.9720,1)" font-size="11.30" font-weight="normal" font-style="italic" fill="#111">ACh</text>
<text transform="translate(482.07,304.90) scale(0.9720,1)" font-size="11.30" font-weight="normal" font-style="italic" fill="#111">Meta</text>
<text transform="translate(484.75,332.90) scale(0.9720,1)" font-size="11.30" font-weight="normal" font-style="italic" fill="#111">Are</text>
<text transform="translate(482.10,361.80) scale(0.9720,1)" font-size="11.30" font-weight="normal" font-style="italic" fill="#111">Carb</text>
<text transform="translate(482.37,388.90) scale(0.9720,1)" font-size="11.30" font-weight="normal" font-style="italic" fill="#111">Pilo</text>
<text transform="translate(482.17,417.80) scale(0.9720,1)" font-size="11.30" font-weight="normal" font-style="italic" fill="#111">McN</text>
<text transform="translate(482.36,445.10) scale(0.9720,1)" font-size="11.30" font-weight="normal" font-style="italic" fill="#111">Xano</text>
<text transform="translate(485.45,476.50) scale(0.9720,1)" font-size="11.30" font-weight="normal" font-style="italic" fill="#111">Atro</text>
<text transform="translate(484.97,504.70) scale(0.9720,1)" font-size="11.30" font-weight="normal" font-style="italic" fill="#111">Sco</text>
<text transform="translate(485.26,531.90) scale(0.9720,1)" font-size="11.30" font-weight="normal" font-style="italic" fill="#111">Ipra</text>
<g stroke="#888" stroke-width="1.5"><line x1="477.9" y1="267.6" x2="477.9" y2="365.5"/><line x1="477.9" y1="381" x2="477.9" y2="451.8"/><line x1="477.9" y1="468.1" x2="477.9" y2="536.1"/></g>
<text transform="translate(433.05,318.80) scale(0.9550,1)" font-size="11.40" font-weight="normal" font-style="normal" fill="#111">Agonist</text>
<text transform="translate(432.83,424.50) scale(0.9550,1)" font-size="11.40" font-weight="normal" font-style="normal" fill="#111">Partial</text>
<text transform="translate(433.35,437.80) scale(0.9550,1)" font-size="11.40" font-weight="normal" font-style="normal" fill="#111">Agonist</text>
<text transform="translate(421.45,505.80) scale(0.9550,1)" font-size="11.40" font-weight="normal" font-style="normal" fill="#111">Antagonist</text>
<g stroke="#222" stroke-width="1.2" fill="none"><path d="M511.2,551.6 H680.5"/>
<path d="M511.4,551.6 V555.5"/>
<path d="M528.7,551.6 V555.5"/>
<path d="M546.0,551.6 V555.5"/>
<path d="M563.4,551.6 V555.5"/>
<path d="M580.7,551.6 V555.5"/>
<path d="M598.0,551.6 V555.5"/>
<path d="M615.3,551.6 V555.5"/>
<path d="M632.6,551.6 V555.5"/>
<path d="M650.0,551.6 V555.5"/>
<path d="M667.3,551.6 V555.5"/>
</g>
<text transform="translate(511.60,567.90) scale(0.9000,1)" font-size="11.00" font-weight="normal" font-style="normal" fill="#111" text-anchor="middle">0.0</text>
<text transform="translate(528.92,567.90) scale(0.9000,1)" font-size="11.00" font-weight="normal" font-style="normal" fill="#111" text-anchor="middle">0.2</text>
<text transform="translate(546.24,567.90) scale(0.9000,1)" font-size="11.00" font-weight="normal" font-style="normal" fill="#111" text-anchor="middle">0.4</text>
<text transform="translate(563.56,567.90) scale(0.9000,1)" font-size="11.00" font-weight="normal" font-style="normal" fill="#111" text-anchor="middle">0.6</text>
<text transform="translate(580.88,567.90) scale(0.9000,1)" font-size="11.00" font-weight="normal" font-style="normal" fill="#111" text-anchor="middle">0.8</text>
<text transform="translate(598.20,567.90) scale(0.9000,1)" font-size="11.00" font-weight="normal" font-style="normal" fill="#111" text-anchor="middle">1.0</text>
<text transform="translate(615.52,567.90) scale(0.9000,1)" font-size="11.00" font-weight="normal" font-style="normal" fill="#111" text-anchor="middle">1.2</text>
<text transform="translate(632.84,567.90) scale(0.9000,1)" font-size="11.00" font-weight="normal" font-style="normal" fill="#111" text-anchor="middle">1.4</text>
<text transform="translate(650.16,567.90) scale(0.9000,1)" font-size="11.00" font-weight="normal" font-style="normal" fill="#111" text-anchor="middle">1.6</text>
<text transform="translate(667.48,567.90) scale(0.9000,1)" font-size="11.00" font-weight="normal" font-style="normal" fill="#111" text-anchor="middle">1.8</text>
<text transform="translate(544.64,588.80) scale(0.9480,1)" font-size="13.33" font-weight="normal" font-style="normal" fill="#111" >Amide-I band ratio</text>
</svg>
</body></html>
